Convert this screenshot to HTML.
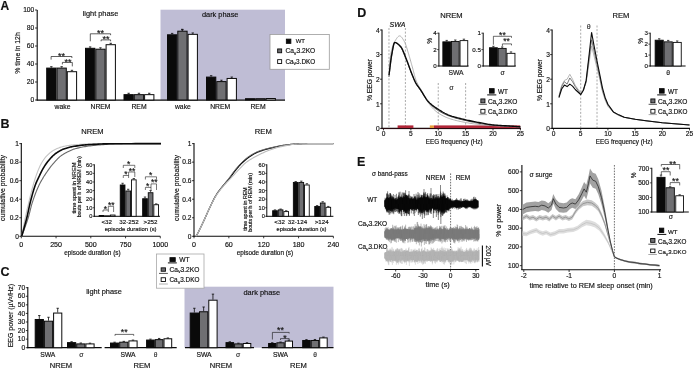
<!DOCTYPE html>
<html><head><meta charset="utf-8"><style>
html,body{margin:0;padding:0;background:#fff;}
svg{display:block;}
text{font-family:"Liberation Sans", sans-serif;stroke:#111;stroke-width:0.16px;paint-order:stroke;}
svg{will-change:transform;}
</style></head><body>
<svg width="694" height="368" viewBox="0 0 694 368">
<rect x="0" y="0" width="694" height="368" fill="#fff"/>
<text x="0.60" y="9.90" font-size="12.00" text-anchor="start" fill="#111" font-weight="bold">A</text>
<rect x="160.50" y="9.70" width="124.50" height="90.30" fill="#bfbdd5"/>
<line x1="37.20" y1="10.00" x2="37.20" y2="100.50" stroke="#0a0a0a" stroke-width="1.1"/>
<line x1="35.00" y1="100.00" x2="37.20" y2="100.00" stroke="#0a0a0a" stroke-width="0.8"/>
<text x="34.30" y="102.30" font-size="6.70" text-anchor="end" fill="#111">0</text>
<line x1="35.00" y1="82.00" x2="37.20" y2="82.00" stroke="#0a0a0a" stroke-width="0.8"/>
<text x="34.30" y="84.30" font-size="6.70" text-anchor="end" fill="#111">20</text>
<line x1="35.00" y1="64.00" x2="37.20" y2="64.00" stroke="#0a0a0a" stroke-width="0.8"/>
<text x="34.30" y="66.30" font-size="6.70" text-anchor="end" fill="#111">40</text>
<line x1="35.00" y1="46.00" x2="37.20" y2="46.00" stroke="#0a0a0a" stroke-width="0.8"/>
<text x="34.30" y="48.30" font-size="6.70" text-anchor="end" fill="#111">60</text>
<line x1="35.00" y1="28.00" x2="37.20" y2="28.00" stroke="#0a0a0a" stroke-width="0.8"/>
<text x="34.30" y="30.30" font-size="6.70" text-anchor="end" fill="#111">80</text>
<line x1="35.00" y1="10.00" x2="37.20" y2="10.00" stroke="#0a0a0a" stroke-width="0.8"/>
<text x="34.30" y="12.30" font-size="6.70" text-anchor="end" fill="#111">100</text>
<text x="20.00" y="53.00" font-size="6.83" text-anchor="middle" fill="#111" transform="rotate(-90 20.00 53.00)">% time in 12h</text>
<line x1="36.70" y1="100.20" x2="285.00" y2="100.20" stroke="#0a0a0a" stroke-width="1.2"/>
<rect x="46.70" y="68.10" width="9.30" height="31.90" fill="#0a0a0a" stroke="#0a0a0a" stroke-width="1.0"/>
<line x1="51.35" y1="67.60" x2="51.35" y2="66.70" stroke="#0a0a0a" stroke-width="0.8"/>
<line x1="50.15" y1="66.70" x2="52.55" y2="66.70" stroke="#0a0a0a" stroke-width="0.8"/>
<rect x="57.00" y="68.10" width="9.30" height="31.90" fill="#6f6f72" stroke="#0a0a0a" stroke-width="1.0"/>
<line x1="61.65" y1="67.60" x2="61.65" y2="66.70" stroke="#0a0a0a" stroke-width="0.8"/>
<line x1="60.45" y1="66.70" x2="62.85" y2="66.70" stroke="#0a0a0a" stroke-width="0.8"/>
<rect x="67.30" y="71.70" width="9.30" height="28.30" fill="#ffffff" stroke="#0a0a0a" stroke-width="1.0"/>
<line x1="71.95" y1="71.20" x2="71.95" y2="70.30" stroke="#0a0a0a" stroke-width="0.8"/>
<line x1="70.75" y1="70.30" x2="73.15" y2="70.30" stroke="#0a0a0a" stroke-width="0.8"/>
<rect x="85.50" y="48.30" width="9.30" height="51.70" fill="#0a0a0a" stroke="#0a0a0a" stroke-width="1.0"/>
<line x1="90.15" y1="47.80" x2="90.15" y2="46.90" stroke="#0a0a0a" stroke-width="0.8"/>
<line x1="88.95" y1="46.90" x2="91.35" y2="46.90" stroke="#0a0a0a" stroke-width="0.8"/>
<rect x="95.80" y="49.20" width="9.30" height="50.80" fill="#6f6f72" stroke="#0a0a0a" stroke-width="1.0"/>
<line x1="100.45" y1="48.70" x2="100.45" y2="47.80" stroke="#0a0a0a" stroke-width="0.8"/>
<line x1="99.25" y1="47.80" x2="101.65" y2="47.80" stroke="#0a0a0a" stroke-width="0.8"/>
<rect x="106.10" y="44.70" width="9.30" height="55.30" fill="#ffffff" stroke="#0a0a0a" stroke-width="1.0"/>
<line x1="110.75" y1="44.20" x2="110.75" y2="43.30" stroke="#0a0a0a" stroke-width="0.8"/>
<line x1="109.55" y1="43.30" x2="111.95" y2="43.30" stroke="#0a0a0a" stroke-width="0.8"/>
<rect x="124.00" y="94.65" width="9.30" height="5.35" fill="#0a0a0a" stroke="#0a0a0a" stroke-width="1.0"/>
<line x1="128.65" y1="94.15" x2="128.65" y2="93.25" stroke="#0a0a0a" stroke-width="0.8"/>
<line x1="127.45" y1="93.25" x2="129.85" y2="93.25" stroke="#0a0a0a" stroke-width="0.8"/>
<rect x="134.30" y="94.65" width="9.30" height="5.35" fill="#6f6f72" stroke="#0a0a0a" stroke-width="1.0"/>
<line x1="138.95" y1="94.15" x2="138.95" y2="93.25" stroke="#0a0a0a" stroke-width="0.8"/>
<line x1="137.75" y1="93.25" x2="140.15" y2="93.25" stroke="#0a0a0a" stroke-width="0.8"/>
<rect x="144.60" y="94.65" width="9.30" height="5.35" fill="#ffffff" stroke="#0a0a0a" stroke-width="1.0"/>
<line x1="149.25" y1="94.15" x2="149.25" y2="93.25" stroke="#0a0a0a" stroke-width="0.8"/>
<line x1="148.05" y1="93.25" x2="150.45" y2="93.25" stroke="#0a0a0a" stroke-width="0.8"/>
<rect x="167.50" y="34.80" width="9.30" height="65.20" fill="#0a0a0a" stroke="#0a0a0a" stroke-width="1.0"/>
<line x1="172.15" y1="34.30" x2="172.15" y2="33.40" stroke="#0a0a0a" stroke-width="0.8"/>
<line x1="170.95" y1="33.40" x2="173.35" y2="33.40" stroke="#0a0a0a" stroke-width="0.8"/>
<rect x="177.80" y="31.20" width="9.30" height="68.80" fill="#6f6f72" stroke="#0a0a0a" stroke-width="1.0"/>
<line x1="182.45" y1="30.70" x2="182.45" y2="29.80" stroke="#0a0a0a" stroke-width="0.8"/>
<line x1="181.25" y1="29.80" x2="183.65" y2="29.80" stroke="#0a0a0a" stroke-width="0.8"/>
<rect x="188.10" y="34.35" width="9.30" height="65.65" fill="#ffffff" stroke="#0a0a0a" stroke-width="1.0"/>
<line x1="192.75" y1="33.85" x2="192.75" y2="32.95" stroke="#0a0a0a" stroke-width="0.8"/>
<line x1="191.55" y1="32.95" x2="193.95" y2="32.95" stroke="#0a0a0a" stroke-width="0.8"/>
<rect x="206.50" y="77.10" width="9.30" height="22.90" fill="#0a0a0a" stroke="#0a0a0a" stroke-width="1.0"/>
<line x1="211.15" y1="76.60" x2="211.15" y2="75.70" stroke="#0a0a0a" stroke-width="0.8"/>
<line x1="209.95" y1="75.70" x2="212.35" y2="75.70" stroke="#0a0a0a" stroke-width="0.8"/>
<rect x="216.80" y="81.60" width="9.30" height="18.40" fill="#6f6f72" stroke="#0a0a0a" stroke-width="1.0"/>
<line x1="221.45" y1="81.10" x2="221.45" y2="80.20" stroke="#0a0a0a" stroke-width="0.8"/>
<line x1="220.25" y1="80.20" x2="222.65" y2="80.20" stroke="#0a0a0a" stroke-width="0.8"/>
<rect x="227.10" y="78.45" width="9.30" height="21.55" fill="#ffffff" stroke="#0a0a0a" stroke-width="1.0"/>
<line x1="231.75" y1="77.95" x2="231.75" y2="77.05" stroke="#0a0a0a" stroke-width="0.8"/>
<line x1="230.55" y1="77.05" x2="232.95" y2="77.05" stroke="#0a0a0a" stroke-width="0.8"/>
<rect x="245.50" y="98.70" width="9.30" height="1.30" fill="#0a0a0a" stroke="#0a0a0a" stroke-width="1.0"/>
<rect x="255.80" y="98.70" width="9.30" height="1.30" fill="#6f6f72" stroke="#0a0a0a" stroke-width="1.0"/>
<rect x="266.10" y="98.52" width="9.30" height="1.48" fill="#ffffff" stroke="#0a0a0a" stroke-width="1.0"/>
<line x1="182.20" y1="30.70" x2="182.20" y2="29.30" stroke="#0a0a0a" stroke-width="0.8"/>
<line x1="181.00" y1="29.30" x2="183.40" y2="29.30" stroke="#0a0a0a" stroke-width="0.8"/>
<text x="100.50" y="16.00" font-size="7.40" text-anchor="middle" fill="#111">light phase</text>
<text x="220.20" y="16.50" font-size="7.40" text-anchor="middle" fill="#111">dark phase</text>
<text x="62.50" y="109.00" font-size="6.80" text-anchor="middle" fill="#111">wake</text>
<text x="100.50" y="109.00" font-size="6.80" text-anchor="middle" fill="#111">NREM</text>
<text x="139.00" y="109.00" font-size="6.80" text-anchor="middle" fill="#111">REM</text>
<text x="182.90" y="109.00" font-size="6.80" text-anchor="middle" fill="#111">wake</text>
<text x="220.20" y="109.00" font-size="6.80" text-anchor="middle" fill="#111">NREM</text>
<text x="258.00" y="109.00" font-size="6.80" text-anchor="middle" fill="#111">REM</text>
<text x="61.40" y="58.52" font-size="9.00" text-anchor="middle" fill="#111">**</text>
<polyline points="51.10,59.60 51.10,56.50 71.90,56.50 71.90,58.00" fill="none" stroke="#0a0a0a" stroke-width="0.65" stroke-linejoin="round"/>
<text x="67.90" y="64.62" font-size="9.00" text-anchor="middle" fill="#111">**</text>
<polyline points="62.40,64.40 62.40,62.40 72.30,62.40 72.30,66.40" fill="none" stroke="#0a0a0a" stroke-width="0.65" stroke-linejoin="round"/>
<text x="100.40" y="35.72" font-size="9.00" text-anchor="middle" fill="#111">**</text>
<polyline points="90.30,41.30 90.30,33.80 110.60,33.80 110.60,35.20" fill="none" stroke="#0a0a0a" stroke-width="0.65" stroke-linejoin="round"/>
<text x="106.00" y="42.12" font-size="9.00" text-anchor="middle" fill="#111">**</text>
<polyline points="101.10,41.30 101.10,39.90 110.60,39.90 110.60,41.30" fill="none" stroke="#0a0a0a" stroke-width="0.65" stroke-linejoin="round"/>
<rect x="270.00" y="34.40" width="59.30" height="34.90" fill="#ffffff" stroke="#9a9a9a" stroke-width="0.8"/>
<rect x="286.35" y="39.15" width="4.50" height="4.20" fill="#0a0a0a" stroke="#0a0a0a" stroke-width="0.9"/>
<text x="295.70" y="43.40" font-size="5.98" text-anchor="start" fill="#111">WT</text>
<rect x="277.65" y="48.95" width="4.00" height="3.80" fill="#6f6f72" stroke="#0a0a0a" stroke-width="0.9"/>
<text x="285.40" y="53.20" font-size="6.62" fill="#111">Ca<tspan font-size="3.97" dy="1.66">V</tspan><tspan dy="-1.66">3.2KO</tspan></text>
<rect x="277.65" y="59.65" width="4.00" height="3.80" fill="#ffffff" stroke="#0a0a0a" stroke-width="0.9"/>
<text x="285.40" y="63.70" font-size="6.39" fill="#111">Ca<tspan font-size="3.83" dy="1.60">V</tspan><tspan dy="-1.60">3.DKO</tspan></text>
<text x="0.50" y="127.50" font-size="12.50" text-anchor="start" fill="#111" font-weight="bold">B</text>
<line x1="21.30" y1="143.10" x2="21.30" y2="236.80" stroke="#0a0a0a" stroke-width="1.1"/>
<line x1="20.80" y1="236.30" x2="160.30" y2="236.30" stroke="#0a0a0a" stroke-width="1.1"/>
<line x1="19.30" y1="236.30" x2="21.30" y2="236.30" stroke="#0a0a0a" stroke-width="0.8"/>
<text x="18.80" y="238.60" font-size="6.60" text-anchor="end" fill="#111">0</text>
<line x1="19.30" y1="217.76" x2="21.30" y2="217.76" stroke="#0a0a0a" stroke-width="0.8"/>
<text x="18.80" y="220.06" font-size="6.60" text-anchor="end" fill="#111">0.2</text>
<line x1="19.30" y1="199.22" x2="21.30" y2="199.22" stroke="#0a0a0a" stroke-width="0.8"/>
<text x="18.80" y="201.52" font-size="6.60" text-anchor="end" fill="#111">0.4</text>
<line x1="19.30" y1="180.68" x2="21.30" y2="180.68" stroke="#0a0a0a" stroke-width="0.8"/>
<text x="18.80" y="182.98" font-size="6.60" text-anchor="end" fill="#111">0.6</text>
<line x1="19.30" y1="162.14" x2="21.30" y2="162.14" stroke="#0a0a0a" stroke-width="0.8"/>
<text x="18.80" y="164.44" font-size="6.60" text-anchor="end" fill="#111">0.8</text>
<line x1="19.30" y1="143.60" x2="21.30" y2="143.60" stroke="#0a0a0a" stroke-width="0.8"/>
<text x="18.80" y="145.90" font-size="6.60" text-anchor="end" fill="#111">1</text>
<line x1="21.30" y1="236.30" x2="21.30" y2="238.30" stroke="#0a0a0a" stroke-width="0.8"/>
<text x="21.30" y="246.80" font-size="7.10" text-anchor="middle" fill="#111">0</text>
<line x1="56.05" y1="236.30" x2="56.05" y2="238.30" stroke="#0a0a0a" stroke-width="0.8"/>
<text x="56.05" y="246.80" font-size="7.10" text-anchor="middle" fill="#111">250</text>
<line x1="90.80" y1="236.30" x2="90.80" y2="238.30" stroke="#0a0a0a" stroke-width="0.8"/>
<text x="90.80" y="246.80" font-size="7.10" text-anchor="middle" fill="#111">500</text>
<line x1="125.55" y1="236.30" x2="125.55" y2="238.30" stroke="#0a0a0a" stroke-width="0.8"/>
<text x="125.55" y="246.80" font-size="7.10" text-anchor="middle" fill="#111">750</text>
<line x1="160.30" y1="236.30" x2="160.30" y2="238.30" stroke="#0a0a0a" stroke-width="0.8"/>
<text x="160.30" y="246.80" font-size="7.10" text-anchor="middle" fill="#111">1000</text>
<text x="92.40" y="133.70" font-size="7.57" text-anchor="middle" fill="#111">NREM</text>
<text x="92.40" y="255.30" font-size="6.39" text-anchor="middle" fill="#111">episode duration (s)</text>
<text x="5.20" y="188.00" font-size="6.86" text-anchor="middle" fill="#111" transform="rotate(-90 5.20 188.00)">cumulative probability</text>
<polyline points="21.70,236.30 22.23,234.81 22.77,233.35 23.30,231.90 23.83,230.47 24.37,229.03 24.90,227.59 25.43,226.13 25.97,224.64 26.50,223.11 27.03,221.54 27.57,219.91 28.10,218.22 28.46,217.02 28.82,215.74 29.18,214.40 29.53,213.01 29.89,211.59 30.25,210.17 30.61,208.74 30.97,207.34 31.32,205.98 31.68,204.67 32.04,203.43 32.40,202.28 32.96,200.58 33.52,198.93 34.08,197.33 34.63,195.77 35.19,194.26 35.75,192.79 36.31,191.38 36.87,190.01 37.42,188.69 37.98,187.42 38.54,186.20 39.10,185.04 39.73,183.77 40.37,182.55 41.00,181.38 41.63,180.25 42.27,179.16 42.90,178.10 43.53,177.07 44.17,176.07 44.80,175.09 45.43,174.13 46.07,173.18 46.70,172.24 47.25,171.44 47.80,170.65 48.35,169.87 48.90,169.10 49.45,168.35 50.00,167.61 50.55,166.89 51.10,166.18 51.65,165.50 52.20,164.82 52.75,164.17 53.30,163.53 53.93,162.81 54.57,162.09 55.20,161.39 55.83,160.69 56.47,160.01 57.10,159.35 57.73,158.71 58.37,158.09 59.00,157.50 59.63,156.94 60.27,156.42 60.90,155.93 61.53,155.47 62.17,155.03 62.80,154.62 63.43,154.22 64.07,153.83 64.70,153.46 65.33,153.10 65.97,152.76 66.60,152.43 67.23,152.10 67.87,151.79 68.50,151.48 69.04,151.22 69.58,150.96 70.12,150.70 70.67,150.45 71.21,150.20 71.75,149.97 72.29,149.74 72.83,149.52 73.38,149.32 73.92,149.12 74.46,148.95 75.00,148.79 76.25,148.46 77.50,148.14 78.75,147.85 80.00,147.57 81.25,147.30 82.50,147.06 83.75,146.83 85.00,146.62 86.25,146.42 87.50,146.24 88.75,146.07 90.00,145.92 91.67,145.72 93.33,145.54 95.00,145.36 96.67,145.20 98.33,145.04 100.00,144.89 101.67,144.75 103.33,144.63 105.00,144.52 106.67,144.41 108.33,144.33 110.00,144.25 111.67,144.18 113.33,144.11 115.00,144.05 116.67,143.99 118.33,143.93 120.00,143.88 121.67,143.83 123.33,143.79 125.00,143.76 126.67,143.73 128.33,143.71 130.00,143.69 132.58,143.68 135.17,143.67 137.75,143.66 140.33,143.65 142.92,143.64 145.50,143.64 148.08,143.63 150.67,143.62 153.25,143.62 155.83,143.61 158.42,143.61 161.00,143.60" fill="none" stroke="#6a6a6a" stroke-width="1.1" stroke-linejoin="round"/>
<polyline points="21.70,236.30 21.99,234.78 22.28,233.26 22.57,231.72 22.87,230.17 23.16,228.63 23.45,227.09 23.74,225.56 24.03,224.04 24.32,222.55 24.62,221.08 24.91,219.63 25.20,218.22 25.50,216.80 25.80,215.40 26.10,214.02 26.40,212.66 26.70,211.31 27.00,209.98 27.30,208.66 27.60,207.36 27.90,206.07 28.20,204.80 28.50,203.53 28.80,202.28 29.17,200.75 29.53,199.23 29.90,197.72 30.27,196.22 30.63,194.73 31.00,193.26 31.37,191.82 31.73,190.40 32.10,189.01 32.47,187.65 32.83,186.32 33.20,185.04 33.52,183.95 33.83,182.88 34.15,181.82 34.47,180.78 34.78,179.76 35.10,178.76 35.42,177.78 35.73,176.82 36.05,175.89 36.37,174.99 36.68,174.11 37.00,173.26 37.36,172.33 37.72,171.41 38.08,170.51 38.43,169.63 38.79,168.77 39.15,167.93 39.51,167.12 39.87,166.33 40.22,165.58 40.58,164.86 40.94,164.18 41.30,163.53 41.75,162.75 42.20,162.00 42.65,161.27 43.10,160.57 43.55,159.89 44.00,159.24 44.45,158.62 44.90,158.02 45.35,157.46 45.80,156.92 46.25,156.41 46.70,155.93 47.33,155.29 47.97,154.67 48.60,154.07 49.23,153.50 49.87,152.95 50.50,152.43 51.13,151.94 51.77,151.47 52.40,151.03 53.03,150.63 53.67,150.25 54.30,149.90 55.02,149.53 55.75,149.18 56.47,148.84 57.20,148.51 57.92,148.21 58.65,147.92 59.38,147.64 60.10,147.39 60.83,147.15 61.55,146.94 62.27,146.74 63.00,146.57 63.82,146.38 64.63,146.21 65.45,146.05 66.27,145.89 67.08,145.75 67.90,145.61 68.72,145.48 69.53,145.36 70.35,145.26 71.17,145.16 71.98,145.07 72.80,144.99 74.23,144.86 75.67,144.74 77.10,144.63 78.53,144.52 79.97,144.42 81.40,144.33 82.83,144.24 84.27,144.17 85.70,144.10 87.13,144.05 88.57,144.00 90.00,143.97 92.08,143.93 94.17,143.90 96.25,143.86 98.33,143.83 100.42,143.81 102.50,143.78 104.58,143.76 106.67,143.74 108.75,143.73 110.83,143.71 112.92,143.70 115.00,143.69 118.83,143.68 122.67,143.67 126.50,143.66 130.33,143.65 134.17,143.64 138.00,143.64 141.83,143.63 145.67,143.63 149.50,143.62 153.33,143.61 157.17,143.61 161.00,143.60" fill="none" stroke="#c4c4c4" stroke-width="1.1" stroke-linejoin="round"/>
<polyline points="21.70,236.30 22.12,234.81 22.53,233.33 22.95,231.87 23.37,230.42 23.78,228.96 24.20,227.50 24.62,226.03 25.03,224.54 25.45,223.02 25.87,221.46 26.28,219.87 26.70,218.22 27.00,216.99 27.30,215.70 27.60,214.36 27.90,213.00 28.20,211.61 28.50,210.21 28.80,208.81 29.10,207.43 29.40,206.07 29.70,204.75 30.00,203.49 30.30,202.28 30.72,200.66 31.13,199.05 31.55,197.47 31.97,195.91 32.38,194.39 32.80,192.90 33.22,191.45 33.63,190.06 34.05,188.71 34.47,187.42 34.88,186.19 35.30,185.04 35.62,184.20 35.93,183.41 36.25,182.64 36.57,181.90 36.88,181.19 37.20,180.49 37.52,179.82 37.83,179.15 38.15,178.49 38.47,177.83 38.78,177.17 39.10,176.51 39.47,175.73 39.83,174.96 40.20,174.18 40.57,173.42 40.93,172.65 41.30,171.90 41.67,171.17 42.03,170.45 42.40,169.75 42.77,169.07 43.13,168.42 43.50,167.79 43.95,167.06 44.40,166.34 44.85,165.65 45.30,164.97 45.75,164.31 46.20,163.67 46.65,163.05 47.10,162.44 47.55,161.85 48.00,161.28 48.45,160.73 48.90,160.19 49.44,159.56 49.98,158.94 50.52,158.33 51.07,157.73 51.61,157.15 52.15,156.59 52.69,156.05 53.23,155.53 53.77,155.03 54.32,154.56 54.86,154.12 55.40,153.70 56.03,153.25 56.67,152.80 57.30,152.38 57.93,151.97 58.57,151.57 59.20,151.19 59.83,150.84 60.47,150.50 61.10,150.18 61.73,149.88 62.37,149.60 63.00,149.35 63.82,149.04 64.63,148.74 65.45,148.46 66.27,148.19 67.08,147.94 67.90,147.70 68.72,147.47 69.53,147.26 70.35,147.06 71.17,146.88 71.98,146.72 72.80,146.57 74.23,146.32 75.67,146.09 77.10,145.87 78.53,145.67 79.97,145.48 81.40,145.30 82.83,145.13 84.27,144.98 85.70,144.84 87.13,144.72 88.57,144.62 90.00,144.53 91.67,144.43 93.33,144.34 95.00,144.26 96.67,144.18 98.33,144.10 100.00,144.03 101.67,143.97 103.33,143.92 105.00,143.87 106.67,143.83 108.33,143.80 110.00,143.79 114.25,143.76 118.50,143.73 122.75,143.71 127.00,143.69 131.25,143.68 135.50,143.67 139.75,143.66 144.00,143.65 148.25,143.64 152.50,143.63 156.75,143.61 161.00,143.60" fill="none" stroke="#0a0a0a" stroke-width="1.6" stroke-linejoin="round"/>
<line x1="194.00" y1="143.10" x2="194.00" y2="236.80" stroke="#0a0a0a" stroke-width="1.1"/>
<line x1="193.50" y1="236.30" x2="333.40" y2="236.30" stroke="#0a0a0a" stroke-width="1.1"/>
<line x1="192.00" y1="236.30" x2="194.00" y2="236.30" stroke="#0a0a0a" stroke-width="0.8"/>
<text x="191.50" y="238.60" font-size="6.60" text-anchor="end" fill="#111">0</text>
<line x1="192.00" y1="217.76" x2="194.00" y2="217.76" stroke="#0a0a0a" stroke-width="0.8"/>
<text x="191.50" y="220.06" font-size="6.60" text-anchor="end" fill="#111">0.2</text>
<line x1="192.00" y1="199.22" x2="194.00" y2="199.22" stroke="#0a0a0a" stroke-width="0.8"/>
<text x="191.50" y="201.52" font-size="6.60" text-anchor="end" fill="#111">0.4</text>
<line x1="192.00" y1="180.68" x2="194.00" y2="180.68" stroke="#0a0a0a" stroke-width="0.8"/>
<text x="191.50" y="182.98" font-size="6.60" text-anchor="end" fill="#111">0.6</text>
<line x1="192.00" y1="162.14" x2="194.00" y2="162.14" stroke="#0a0a0a" stroke-width="0.8"/>
<text x="191.50" y="164.44" font-size="6.60" text-anchor="end" fill="#111">0.8</text>
<line x1="192.00" y1="143.60" x2="194.00" y2="143.60" stroke="#0a0a0a" stroke-width="0.8"/>
<text x="191.50" y="145.90" font-size="6.60" text-anchor="end" fill="#111">1</text>
<line x1="194.00" y1="236.30" x2="194.00" y2="238.30" stroke="#0a0a0a" stroke-width="0.8"/>
<text x="194.00" y="246.80" font-size="7.10" text-anchor="middle" fill="#111">0</text>
<line x1="228.85" y1="236.30" x2="228.85" y2="238.30" stroke="#0a0a0a" stroke-width="0.8"/>
<text x="228.85" y="246.80" font-size="7.10" text-anchor="middle" fill="#111">60</text>
<line x1="263.70" y1="236.30" x2="263.70" y2="238.30" stroke="#0a0a0a" stroke-width="0.8"/>
<text x="263.70" y="246.80" font-size="7.10" text-anchor="middle" fill="#111">120</text>
<line x1="298.55" y1="236.30" x2="298.55" y2="238.30" stroke="#0a0a0a" stroke-width="0.8"/>
<text x="298.55" y="246.80" font-size="7.10" text-anchor="middle" fill="#111">180</text>
<line x1="333.40" y1="236.30" x2="333.40" y2="238.30" stroke="#0a0a0a" stroke-width="0.8"/>
<text x="333.40" y="246.80" font-size="7.10" text-anchor="middle" fill="#111">240</text>
<text x="263.30" y="133.70" font-size="7.65" text-anchor="middle" fill="#111">REM</text>
<text x="265.00" y="255.30" font-size="6.39" text-anchor="middle" fill="#111">episode duration (s)</text>
<text x="178.60" y="188.00" font-size="6.86" text-anchor="middle" fill="#111" transform="rotate(-90 178.60 188.00)">cumulative probability</text>
<polyline points="196.00,236.30 196.09,236.15 196.18,235.99 196.28,235.84 196.37,235.69 196.46,235.54 196.55,235.39 196.64,235.24 196.73,235.08 196.82,234.93 196.92,234.77 197.01,234.61 197.10,234.45 197.63,233.47 198.17,232.46 198.70,231.43 199.23,230.38 199.77,229.30 200.30,228.21 200.83,227.10 201.37,225.98 201.90,224.86 202.43,223.73 202.97,222.60 203.50,221.47 204.03,220.35 204.55,219.20 205.07,218.04 205.60,216.86 206.12,215.67 206.65,214.48 207.18,213.30 207.70,212.12 208.23,210.95 208.75,209.80 209.28,208.67 209.80,207.56 210.33,206.45 210.87,205.34 211.40,204.22 211.93,203.11 212.47,202.01 213.00,200.93 213.53,199.86 214.07,198.83 214.60,197.82 215.13,196.85 215.67,195.93 216.20,195.05 216.72,194.23 217.25,193.43 217.77,192.67 218.30,191.93 218.82,191.21 219.35,190.51 219.88,189.82 220.40,189.15 220.93,188.49 221.45,187.83 221.97,187.17 222.50,186.52 223.03,185.86 223.57,185.23 224.10,184.61 224.63,184.00 225.17,183.40 225.70,182.80 226.23,182.21 226.77,181.61 227.30,181.00 227.83,180.39 228.37,179.75 228.90,179.10 229.43,178.43 229.97,177.74 230.50,177.02 231.03,176.30 231.57,175.57 232.10,174.83 232.63,174.09 233.17,173.36 233.70,172.64 234.23,171.93 234.77,171.24 235.30,170.58 235.85,169.90 236.40,169.23 236.95,168.56 237.50,167.90 238.05,167.25 238.60,166.60 239.15,165.97 239.70,165.35 240.25,164.75 240.80,164.17 241.35,163.61 241.90,163.07 242.47,162.52 243.05,161.98 243.62,161.46 244.20,160.94 244.78,160.44 245.35,159.96 245.93,159.48 246.50,159.02 247.08,158.57 247.65,158.14 248.23,157.72 248.80,157.32 249.58,156.79 250.35,156.27 251.12,155.76 251.90,155.26 252.68,154.77 253.45,154.30 254.23,153.85 255.00,153.42 255.78,153.01 256.55,152.63 257.33,152.27 258.10,151.94 259.06,151.57 260.02,151.21 260.98,150.87 261.93,150.56 262.89,150.25 263.85,149.96 264.81,149.69 265.77,149.42 266.73,149.16 267.68,148.91 268.64,148.66 269.60,148.42 270.75,148.13 271.90,147.84 273.05,147.56 274.20,147.28 275.35,147.01 276.50,146.74 277.65,146.49 278.80,146.25 279.95,146.03 281.10,145.82 282.25,145.63 283.40,145.45 284.65,145.28 285.90,145.10 287.15,144.93 288.40,144.76 289.65,144.60 290.90,144.46 292.15,144.32 293.40,144.19 294.65,144.09 295.90,144.00 297.15,143.93 298.40,143.88 299.78,143.84 301.17,143.80 302.55,143.77 303.93,143.73 305.32,143.70 306.70,143.68 308.08,143.66 309.47,143.64 310.85,143.62 312.23,143.61 313.62,143.60 315.00,143.60 316.53,143.60 318.07,143.60 319.60,143.60 321.13,143.60 322.67,143.60 324.20,143.60 325.73,143.60 327.27,143.60 328.80,143.60 330.33,143.60 331.87,143.60 333.40,143.60" fill="none" stroke="#0a0a0a" stroke-width="1.2" stroke-linejoin="round"/>
<polyline points="196.00,236.30 196.09,236.15 196.18,235.99 196.28,235.84 196.37,235.69 196.46,235.54 196.55,235.39 196.64,235.24 196.73,235.08 196.82,234.93 196.92,234.77 197.01,234.61 197.10,234.45 197.63,233.47 198.17,232.46 198.70,231.43 199.23,230.38 199.77,229.30 200.30,228.21 200.83,227.10 201.37,225.98 201.90,224.86 202.43,223.73 202.97,222.60 203.50,221.47 204.03,220.35 204.55,219.20 205.07,218.04 205.60,216.86 206.12,215.67 206.65,214.48 207.18,213.30 207.70,212.12 208.23,210.95 208.75,209.80 209.28,208.67 209.80,207.56 210.33,206.45 210.87,205.34 211.40,204.23 211.93,203.12 212.47,202.03 213.00,200.95 213.53,199.89 214.07,198.85 214.60,197.85 215.13,196.88 215.67,195.94 216.20,195.05 216.72,194.21 217.25,193.40 217.77,192.62 218.30,191.86 218.82,191.13 219.35,190.41 219.88,189.70 220.40,189.00 220.93,188.31 221.45,187.62 221.97,186.93 222.50,186.24 223.03,185.54 223.57,184.86 224.10,184.18 224.63,183.51 225.17,182.85 225.70,182.19 226.23,181.53 226.77,180.87 227.30,180.21 227.83,179.54 228.37,178.87 228.90,178.18 229.43,177.47 229.97,176.76 230.50,176.03 231.03,175.29 231.57,174.55 232.10,173.81 232.63,173.07 233.17,172.34 233.70,171.62 234.23,170.91 234.77,170.22 235.30,169.56 235.85,168.88 236.40,168.22 236.95,167.56 237.50,166.90 238.05,166.26 238.60,165.63 239.15,165.01 239.70,164.40 240.25,163.81 240.80,163.23 241.35,162.68 241.90,162.14 242.47,161.59 243.05,161.05 243.62,160.53 244.20,160.01 244.78,159.50 245.35,159.01 245.93,158.53 246.50,158.07 247.08,157.62 247.65,157.19 248.23,156.78 248.80,156.39 249.58,155.89 250.35,155.39 251.12,154.91 251.90,154.45 252.68,154.00 253.45,153.56 254.23,153.15 255.00,152.75 255.78,152.38 256.55,152.03 257.33,151.69 258.10,151.39 259.06,151.03 260.02,150.70 260.98,150.38 261.93,150.08 262.89,149.79 263.85,149.51 264.81,149.25 265.77,149.00 266.73,148.75 267.68,148.51 268.64,148.28 269.60,148.05 270.75,147.77 271.90,147.50 273.05,147.23 274.20,146.97 275.35,146.71 276.50,146.47 277.65,146.23 278.80,146.01 279.95,145.80 281.10,145.60 282.25,145.43 283.40,145.27 284.65,145.11 285.90,144.95 287.15,144.80 288.40,144.66 289.65,144.52 290.90,144.39 292.15,144.27 293.40,144.16 294.65,144.07 295.90,143.99 297.15,143.92 298.40,143.88 299.78,143.84 301.17,143.80 302.55,143.77 303.93,143.74 305.32,143.71 306.70,143.68 308.08,143.66 309.47,143.64 310.85,143.62 312.23,143.61 313.62,143.60 315.00,143.60 316.53,143.60 318.07,143.60 319.60,143.60 321.13,143.60 322.67,143.60 324.20,143.60 325.73,143.60 327.27,143.60 328.80,143.60 330.33,143.60 331.87,143.60 333.40,143.60" fill="none" stroke="#6a6a6a" stroke-width="1.0" stroke-linejoin="round"/>
<polyline points="196.00,236.30 196.09,236.15 196.18,235.99 196.28,235.84 196.37,235.69 196.46,235.54 196.55,235.39 196.64,235.24 196.73,235.08 196.82,234.93 196.92,234.77 197.01,234.61 197.10,234.45 197.63,233.47 198.17,232.46 198.70,231.43 199.23,230.38 199.77,229.30 200.30,228.21 200.83,227.10 201.37,225.98 201.90,224.86 202.43,223.73 202.97,222.60 203.50,221.47 204.03,220.34 204.55,219.19 205.07,218.02 205.60,216.84 206.12,215.65 206.65,214.45 207.18,213.26 207.70,212.08 208.23,210.91 208.75,209.77 209.28,208.65 209.80,207.56 210.33,206.48 210.87,205.39 211.40,204.32 211.93,203.25 212.47,202.19 213.00,201.15 213.53,200.14 214.07,199.15 214.60,198.18 215.13,197.25 215.67,196.36 216.20,195.51 216.72,194.71 217.25,193.93 217.77,193.18 218.30,192.46 218.82,191.75 219.35,191.06 219.88,190.38 220.40,189.72 220.93,189.07 221.45,188.43 221.97,187.80 222.50,187.17 223.03,186.54 223.57,185.93 224.10,185.33 224.63,184.74 225.17,184.17 225.70,183.60 226.23,183.03 226.77,182.47 227.30,181.91 227.83,181.35 228.37,180.79 228.90,180.22 229.41,179.67 229.92,179.12 230.43,178.58 230.93,178.03 231.44,177.49 231.95,176.94 232.46,176.40 232.97,175.86 233.47,175.32 233.98,174.79 234.49,174.26 235.00,173.73 235.96,172.72 236.92,171.69 237.88,170.64 238.83,169.59 239.79,168.54 240.75,167.51 241.71,166.51 242.67,165.53 243.62,164.60 244.58,163.71 245.54,162.89 246.50,162.14 247.47,161.44 248.43,160.77 249.40,160.13 250.37,159.52 251.33,158.93 252.30,158.37 253.27,157.83 254.23,157.30 255.20,156.78 256.17,156.28 257.13,155.78 258.10,155.28 259.06,154.79 260.02,154.31 260.98,153.83 261.93,153.36 262.89,152.91 263.85,152.46 264.81,152.02 265.77,151.60 266.73,151.20 267.68,150.81 268.64,150.44 269.60,150.09 270.75,149.68 271.90,149.29 273.05,148.90 274.20,148.53 275.35,148.16 276.50,147.81 277.65,147.48 278.80,147.17 279.95,146.87 281.10,146.59 282.25,146.34 283.40,146.10 284.65,145.86 285.90,145.63 287.15,145.39 288.40,145.17 289.65,144.95 290.90,144.75 292.15,144.57 293.40,144.40 294.65,144.25 295.90,144.13 297.15,144.04 298.40,143.97 299.78,143.92 301.17,143.87 302.55,143.82 303.93,143.78 305.32,143.74 306.70,143.70 308.08,143.67 309.47,143.65 310.85,143.63 312.23,143.61 313.62,143.60 315.00,143.60 316.53,143.60 318.07,143.60 319.60,143.60 321.13,143.60 322.67,143.60 324.20,143.60 325.73,143.60 327.27,143.60 328.80,143.60 330.33,143.60 331.87,143.60 333.40,143.60" fill="none" stroke="#bcbcbc" stroke-width="1.1" stroke-linejoin="round"/>
<line x1="94.30" y1="164.30" x2="94.30" y2="216.80" stroke="#0a0a0a" stroke-width="1.0"/>
<line x1="93.80" y1="216.30" x2="160.00" y2="216.30" stroke="#0a0a0a" stroke-width="1.0"/>
<line x1="92.70" y1="216.30" x2="94.30" y2="216.30" stroke="#0a0a0a" stroke-width="0.7"/>
<text x="92.30" y="218.30" font-size="5.60" text-anchor="end" fill="#111">0</text>
<line x1="92.70" y1="207.72" x2="94.30" y2="207.72" stroke="#0a0a0a" stroke-width="0.7"/>
<text x="92.30" y="209.72" font-size="5.60" text-anchor="end" fill="#111">10</text>
<line x1="92.70" y1="199.13" x2="94.30" y2="199.13" stroke="#0a0a0a" stroke-width="0.7"/>
<text x="92.30" y="201.13" font-size="5.60" text-anchor="end" fill="#111">20</text>
<line x1="92.70" y1="190.55" x2="94.30" y2="190.55" stroke="#0a0a0a" stroke-width="0.7"/>
<text x="92.30" y="192.55" font-size="5.60" text-anchor="end" fill="#111">30</text>
<line x1="92.70" y1="181.97" x2="94.30" y2="181.97" stroke="#0a0a0a" stroke-width="0.7"/>
<text x="92.30" y="183.97" font-size="5.60" text-anchor="end" fill="#111">40</text>
<line x1="92.70" y1="173.38" x2="94.30" y2="173.38" stroke="#0a0a0a" stroke-width="0.7"/>
<text x="92.30" y="175.38" font-size="5.60" text-anchor="end" fill="#111">50</text>
<line x1="92.70" y1="164.80" x2="94.30" y2="164.80" stroke="#0a0a0a" stroke-width="0.7"/>
<text x="92.30" y="166.80" font-size="5.60" text-anchor="end" fill="#111">60</text>
<rect x="99.15" y="215.46" width="4.70" height="0.84" fill="#0a0a0a" stroke="#0a0a0a" stroke-width="0.9"/>
<rect x="104.75" y="215.89" width="4.70" height="0.41" fill="#6f6f72" stroke="#0a0a0a" stroke-width="0.9"/>
<rect x="110.35" y="215.03" width="4.70" height="1.27" fill="#ffffff" stroke="#0a0a0a" stroke-width="0.9"/>
<rect x="120.25" y="184.99" width="4.70" height="31.31" fill="#0a0a0a" stroke="#0a0a0a" stroke-width="0.9"/>
<line x1="122.60" y1="184.54" x2="122.60" y2="183.25" stroke="#0a0a0a" stroke-width="0.7"/>
<line x1="121.40" y1="183.25" x2="123.80" y2="183.25" stroke="#0a0a0a" stroke-width="0.7"/>
<rect x="125.85" y="191.00" width="4.70" height="25.30" fill="#6f6f72" stroke="#0a0a0a" stroke-width="0.9"/>
<line x1="128.20" y1="190.55" x2="128.20" y2="189.26" stroke="#0a0a0a" stroke-width="0.7"/>
<line x1="127.00" y1="189.26" x2="129.40" y2="189.26" stroke="#0a0a0a" stroke-width="0.7"/>
<rect x="131.45" y="179.84" width="4.70" height="36.46" fill="#ffffff" stroke="#0a0a0a" stroke-width="0.9"/>
<line x1="133.80" y1="179.39" x2="133.80" y2="178.53" stroke="#0a0a0a" stroke-width="0.7"/>
<line x1="132.60" y1="178.53" x2="135.00" y2="178.53" stroke="#0a0a0a" stroke-width="0.7"/>
<rect x="142.65" y="198.72" width="4.70" height="17.58" fill="#0a0a0a" stroke="#0a0a0a" stroke-width="0.9"/>
<line x1="145.00" y1="198.28" x2="145.00" y2="196.99" stroke="#0a0a0a" stroke-width="0.7"/>
<line x1="143.80" y1="196.99" x2="146.20" y2="196.99" stroke="#0a0a0a" stroke-width="0.7"/>
<rect x="148.25" y="192.72" width="4.70" height="23.58" fill="#6f6f72" stroke="#0a0a0a" stroke-width="0.9"/>
<line x1="150.60" y1="192.27" x2="150.60" y2="190.55" stroke="#0a0a0a" stroke-width="0.7"/>
<line x1="149.40" y1="190.55" x2="151.80" y2="190.55" stroke="#0a0a0a" stroke-width="0.7"/>
<rect x="153.85" y="204.73" width="4.70" height="11.57" fill="#ffffff" stroke="#0a0a0a" stroke-width="0.9"/>
<line x1="156.20" y1="204.28" x2="156.20" y2="203.85" stroke="#0a0a0a" stroke-width="0.7"/>
<line x1="155.00" y1="203.85" x2="157.40" y2="203.85" stroke="#0a0a0a" stroke-width="0.7"/>
<text x="106.70" y="224.20" font-size="6.20" text-anchor="middle" fill="#111">&lt;32</text>
<text x="129.00" y="224.20" font-size="6.20" text-anchor="middle" fill="#111">32-252</text>
<text x="150.50" y="224.20" font-size="6.20" text-anchor="middle" fill="#111">&gt;252</text>
<text x="130.60" y="230.60" font-size="5.88" text-anchor="middle" fill="#111">episode duration (s)</text>
<text x="75.90" y="188.00" font-size="5.74" text-anchor="middle" fill="#111" transform="rotate(-90 75.90 188.00)">time spent in NREM</text>
<text x="81.30" y="186.80" font-size="5.13" text-anchor="middle" fill="#111" transform="rotate(-90 81.30 186.80)">bouts per h of NREM (min)</text>
<line x1="266.80" y1="164.30" x2="266.80" y2="216.80" stroke="#0a0a0a" stroke-width="1.0"/>
<line x1="266.30" y1="216.30" x2="333.40" y2="216.30" stroke="#0a0a0a" stroke-width="1.0"/>
<line x1="265.20" y1="216.30" x2="266.80" y2="216.30" stroke="#0a0a0a" stroke-width="0.7"/>
<text x="264.80" y="218.30" font-size="5.60" text-anchor="end" fill="#111">0</text>
<line x1="265.20" y1="207.72" x2="266.80" y2="207.72" stroke="#0a0a0a" stroke-width="0.7"/>
<text x="264.80" y="209.72" font-size="5.60" text-anchor="end" fill="#111">10</text>
<line x1="265.20" y1="199.13" x2="266.80" y2="199.13" stroke="#0a0a0a" stroke-width="0.7"/>
<text x="264.80" y="201.13" font-size="5.60" text-anchor="end" fill="#111">20</text>
<line x1="265.20" y1="190.55" x2="266.80" y2="190.55" stroke="#0a0a0a" stroke-width="0.7"/>
<text x="264.80" y="192.55" font-size="5.60" text-anchor="end" fill="#111">30</text>
<line x1="265.20" y1="181.97" x2="266.80" y2="181.97" stroke="#0a0a0a" stroke-width="0.7"/>
<text x="264.80" y="183.97" font-size="5.60" text-anchor="end" fill="#111">40</text>
<line x1="265.20" y1="173.38" x2="266.80" y2="173.38" stroke="#0a0a0a" stroke-width="0.7"/>
<text x="264.80" y="175.38" font-size="5.60" text-anchor="end" fill="#111">50</text>
<line x1="265.20" y1="164.80" x2="266.80" y2="164.80" stroke="#0a0a0a" stroke-width="0.7"/>
<text x="264.80" y="166.80" font-size="5.60" text-anchor="end" fill="#111">60</text>
<rect x="272.65" y="210.74" width="4.70" height="5.56" fill="#0a0a0a" stroke="#0a0a0a" stroke-width="0.9"/>
<line x1="275.00" y1="210.29" x2="275.00" y2="209.86" stroke="#0a0a0a" stroke-width="0.7"/>
<line x1="273.80" y1="209.86" x2="276.20" y2="209.86" stroke="#0a0a0a" stroke-width="0.7"/>
<rect x="278.25" y="209.88" width="4.70" height="6.42" fill="#6f6f72" stroke="#0a0a0a" stroke-width="0.9"/>
<line x1="280.60" y1="209.43" x2="280.60" y2="209.00" stroke="#0a0a0a" stroke-width="0.7"/>
<line x1="279.40" y1="209.00" x2="281.80" y2="209.00" stroke="#0a0a0a" stroke-width="0.7"/>
<rect x="283.85" y="211.60" width="4.70" height="4.70" fill="#ffffff" stroke="#0a0a0a" stroke-width="0.9"/>
<line x1="286.20" y1="211.15" x2="286.20" y2="210.72" stroke="#0a0a0a" stroke-width="0.7"/>
<line x1="285.00" y1="210.72" x2="287.40" y2="210.72" stroke="#0a0a0a" stroke-width="0.7"/>
<rect x="293.35" y="182.42" width="4.70" height="33.88" fill="#0a0a0a" stroke="#0a0a0a" stroke-width="0.9"/>
<line x1="295.70" y1="181.97" x2="295.70" y2="181.54" stroke="#0a0a0a" stroke-width="0.7"/>
<line x1="294.50" y1="181.54" x2="296.90" y2="181.54" stroke="#0a0a0a" stroke-width="0.7"/>
<rect x="298.95" y="182.42" width="4.70" height="33.88" fill="#6f6f72" stroke="#0a0a0a" stroke-width="0.9"/>
<line x1="301.30" y1="181.97" x2="301.30" y2="181.11" stroke="#0a0a0a" stroke-width="0.7"/>
<line x1="300.10" y1="181.11" x2="302.50" y2="181.11" stroke="#0a0a0a" stroke-width="0.7"/>
<rect x="304.55" y="184.99" width="4.70" height="31.31" fill="#ffffff" stroke="#0a0a0a" stroke-width="0.9"/>
<line x1="306.90" y1="184.54" x2="306.90" y2="183.68" stroke="#0a0a0a" stroke-width="0.7"/>
<line x1="305.70" y1="183.68" x2="308.10" y2="183.68" stroke="#0a0a0a" stroke-width="0.7"/>
<rect x="314.75" y="206.45" width="4.70" height="9.85" fill="#0a0a0a" stroke="#0a0a0a" stroke-width="0.9"/>
<line x1="317.10" y1="206.00" x2="317.10" y2="205.57" stroke="#0a0a0a" stroke-width="0.7"/>
<line x1="315.90" y1="205.57" x2="318.30" y2="205.57" stroke="#0a0a0a" stroke-width="0.7"/>
<rect x="320.35" y="203.02" width="4.70" height="13.28" fill="#6f6f72" stroke="#0a0a0a" stroke-width="0.9"/>
<line x1="322.70" y1="202.57" x2="322.70" y2="201.71" stroke="#0a0a0a" stroke-width="0.7"/>
<line x1="321.50" y1="201.71" x2="323.90" y2="201.71" stroke="#0a0a0a" stroke-width="0.7"/>
<rect x="325.95" y="207.31" width="4.70" height="8.99" fill="#ffffff" stroke="#0a0a0a" stroke-width="0.9"/>
<line x1="328.30" y1="206.86" x2="328.30" y2="206.43" stroke="#0a0a0a" stroke-width="0.7"/>
<line x1="327.10" y1="206.43" x2="329.50" y2="206.43" stroke="#0a0a0a" stroke-width="0.7"/>
<text x="279.60" y="224.20" font-size="6.20" text-anchor="middle" fill="#111">&lt;32</text>
<text x="297.50" y="224.20" font-size="6.20" text-anchor="middle" fill="#111">32-124</text>
<text x="321.70" y="224.20" font-size="6.20" text-anchor="middle" fill="#111">&gt;124</text>
<text x="301.50" y="230.60" font-size="5.66" text-anchor="middle" fill="#111">episode duration (s)</text>
<text x="246.90" y="209.00" font-size="5.32" text-anchor="middle" fill="#111" transform="rotate(-90 246.90 209.00)">time spent in REM</text>
<text x="252.00" y="202.40" font-size="5.25" text-anchor="middle" fill="#111" transform="rotate(-90 252.00 202.40)">bouts per h of REM (min)</text>
<text x="105.30" y="212.06" font-size="8.50" text-anchor="middle" fill="#111">*</text>
<text x="111.30" y="207.66" font-size="8.50" text-anchor="middle" fill="#111">**</text>
<line x1="103.00" y1="210.00" x2="108.30" y2="210.00" stroke="#0a0a0a" stroke-width="0.55"/>
<line x1="103.00" y1="210.00" x2="103.00" y2="212.00" stroke="#0a0a0a" stroke-width="0.55"/>
<line x1="108.30" y1="206.30" x2="108.30" y2="212.00" stroke="#0a0a0a" stroke-width="0.55"/>
<line x1="108.30" y1="206.30" x2="113.60" y2="206.30" stroke="#0a0a0a" stroke-width="0.55"/>
<line x1="113.60" y1="206.30" x2="113.60" y2="212.00" stroke="#0a0a0a" stroke-width="0.55"/>
<text x="128.60" y="167.06" font-size="8.50" text-anchor="middle" fill="#111">*</text>
<line x1="123.30" y1="168.00" x2="123.30" y2="165.30" stroke="#0a0a0a" stroke-width="0.55"/>
<line x1="123.30" y1="165.30" x2="134.80" y2="165.30" stroke="#0a0a0a" stroke-width="0.55"/>
<line x1="134.80" y1="165.30" x2="134.80" y2="168.00" stroke="#0a0a0a" stroke-width="0.55"/>
<text x="126.00" y="177.06" font-size="8.50" text-anchor="middle" fill="#111">*</text>
<text x="132.10" y="173.56" font-size="8.50" text-anchor="middle" fill="#111">**</text>
<line x1="123.30" y1="175.50" x2="128.60" y2="175.50" stroke="#0a0a0a" stroke-width="0.55"/>
<line x1="123.30" y1="175.50" x2="123.30" y2="178.00" stroke="#0a0a0a" stroke-width="0.55"/>
<line x1="128.60" y1="172.00" x2="128.60" y2="178.00" stroke="#0a0a0a" stroke-width="0.55"/>
<line x1="128.60" y1="172.00" x2="134.80" y2="172.00" stroke="#0a0a0a" stroke-width="0.55"/>
<line x1="134.80" y1="172.00" x2="134.80" y2="177.00" stroke="#0a0a0a" stroke-width="0.55"/>
<text x="150.70" y="178.46" font-size="8.50" text-anchor="middle" fill="#111">*</text>
<line x1="145.40" y1="179.50" x2="145.40" y2="176.80" stroke="#0a0a0a" stroke-width="0.55"/>
<line x1="145.40" y1="176.80" x2="156.50" y2="176.80" stroke="#0a0a0a" stroke-width="0.55"/>
<line x1="156.50" y1="176.80" x2="156.50" y2="179.50" stroke="#0a0a0a" stroke-width="0.55"/>
<text x="147.70" y="189.06" font-size="8.50" text-anchor="middle" fill="#111">*</text>
<text x="154.20" y="185.16" font-size="8.50" text-anchor="middle" fill="#111">**</text>
<line x1="145.40" y1="187.40" x2="151.00" y2="187.40" stroke="#0a0a0a" stroke-width="0.55"/>
<line x1="145.40" y1="187.40" x2="145.40" y2="190.00" stroke="#0a0a0a" stroke-width="0.55"/>
<line x1="151.00" y1="183.90" x2="151.00" y2="190.00" stroke="#0a0a0a" stroke-width="0.55"/>
<line x1="151.00" y1="183.90" x2="156.50" y2="183.90" stroke="#0a0a0a" stroke-width="0.55"/>
<line x1="156.50" y1="183.90" x2="156.50" y2="190.00" stroke="#0a0a0a" stroke-width="0.55"/>
<text x="0.50" y="276.00" font-size="12.50" text-anchor="start" fill="#111" font-weight="bold">C</text>
<rect x="184.50" y="286.70" width="149.00" height="61.00" fill="#bfbdd5"/>
<line x1="27.80" y1="287.00" x2="27.80" y2="348.20" stroke="#0a0a0a" stroke-width="1.1"/>
<line x1="25.80" y1="347.70" x2="27.80" y2="347.70" stroke="#0a0a0a" stroke-width="0.8"/>
<text x="25.20" y="349.90" font-size="6.60" text-anchor="end" fill="#111">0</text>
<line x1="25.80" y1="339.13" x2="27.80" y2="339.13" stroke="#0a0a0a" stroke-width="0.8"/>
<text x="25.20" y="341.33" font-size="6.60" text-anchor="end" fill="#111">10</text>
<line x1="25.80" y1="330.56" x2="27.80" y2="330.56" stroke="#0a0a0a" stroke-width="0.8"/>
<text x="25.20" y="332.76" font-size="6.60" text-anchor="end" fill="#111">20</text>
<line x1="25.80" y1="321.99" x2="27.80" y2="321.99" stroke="#0a0a0a" stroke-width="0.8"/>
<text x="25.20" y="324.19" font-size="6.60" text-anchor="end" fill="#111">30</text>
<line x1="25.80" y1="313.41" x2="27.80" y2="313.41" stroke="#0a0a0a" stroke-width="0.8"/>
<text x="25.20" y="315.61" font-size="6.60" text-anchor="end" fill="#111">40</text>
<line x1="25.80" y1="304.84" x2="27.80" y2="304.84" stroke="#0a0a0a" stroke-width="0.8"/>
<text x="25.20" y="307.04" font-size="6.60" text-anchor="end" fill="#111">50</text>
<line x1="25.80" y1="296.27" x2="27.80" y2="296.27" stroke="#0a0a0a" stroke-width="0.8"/>
<text x="25.20" y="298.47" font-size="6.60" text-anchor="end" fill="#111">60</text>
<line x1="25.80" y1="287.70" x2="27.80" y2="287.70" stroke="#0a0a0a" stroke-width="0.8"/>
<text x="25.20" y="289.90" font-size="6.60" text-anchor="end" fill="#111">70</text>
<line x1="27.30" y1="347.70" x2="101.70" y2="347.70" stroke="#0a0a0a" stroke-width="1.2"/>
<line x1="104.60" y1="347.70" x2="176.70" y2="347.70" stroke="#0a0a0a" stroke-width="1.2"/>
<line x1="185.00" y1="347.70" x2="254.00" y2="347.70" stroke="#0a0a0a" stroke-width="1.2"/>
<line x1="261.80" y1="347.70" x2="333.50" y2="347.70" stroke="#0a0a0a" stroke-width="1.2"/>
<rect x="35.20" y="319.49" width="8.20" height="28.21" fill="#0a0a0a" stroke="#0a0a0a" stroke-width="1.0"/>
<line x1="39.30" y1="318.99" x2="39.30" y2="315.56" stroke="#0a0a0a" stroke-width="0.8"/>
<line x1="38.10" y1="315.56" x2="40.50" y2="315.56" stroke="#0a0a0a" stroke-width="0.8"/>
<rect x="44.40" y="321.20" width="8.20" height="26.50" fill="#6f6f72" stroke="#0a0a0a" stroke-width="1.0"/>
<line x1="48.50" y1="320.70" x2="48.50" y2="317.27" stroke="#0a0a0a" stroke-width="0.8"/>
<line x1="47.30" y1="317.27" x2="49.70" y2="317.27" stroke="#0a0a0a" stroke-width="0.8"/>
<rect x="53.60" y="313.06" width="8.20" height="34.64" fill="#ffffff" stroke="#0a0a0a" stroke-width="1.0"/>
<line x1="57.70" y1="312.56" x2="57.70" y2="308.27" stroke="#0a0a0a" stroke-width="0.8"/>
<line x1="56.50" y1="308.27" x2="58.90" y2="308.27" stroke="#0a0a0a" stroke-width="0.8"/>
<rect x="67.50" y="342.63" width="8.20" height="5.07" fill="#0a0a0a" stroke="#0a0a0a" stroke-width="1.0"/>
<line x1="71.60" y1="342.13" x2="71.60" y2="341.70" stroke="#0a0a0a" stroke-width="0.8"/>
<line x1="70.40" y1="341.70" x2="72.80" y2="341.70" stroke="#0a0a0a" stroke-width="0.8"/>
<rect x="76.70" y="343.91" width="8.20" height="3.79" fill="#6f6f72" stroke="#0a0a0a" stroke-width="1.0"/>
<line x1="80.80" y1="343.41" x2="80.80" y2="342.99" stroke="#0a0a0a" stroke-width="0.8"/>
<line x1="79.60" y1="342.99" x2="82.00" y2="342.99" stroke="#0a0a0a" stroke-width="0.8"/>
<rect x="85.90" y="343.91" width="8.20" height="3.79" fill="#ffffff" stroke="#0a0a0a" stroke-width="1.0"/>
<line x1="90.00" y1="343.41" x2="90.00" y2="343.16" stroke="#0a0a0a" stroke-width="0.8"/>
<line x1="88.80" y1="343.16" x2="91.20" y2="343.16" stroke="#0a0a0a" stroke-width="0.8"/>
<rect x="110.50" y="343.06" width="8.20" height="4.64" fill="#0a0a0a" stroke="#0a0a0a" stroke-width="1.0"/>
<line x1="114.60" y1="342.56" x2="114.60" y2="342.21" stroke="#0a0a0a" stroke-width="0.8"/>
<line x1="113.40" y1="342.21" x2="115.80" y2="342.21" stroke="#0a0a0a" stroke-width="0.8"/>
<rect x="119.70" y="342.20" width="8.20" height="5.50" fill="#6f6f72" stroke="#0a0a0a" stroke-width="1.0"/>
<line x1="123.80" y1="341.70" x2="123.80" y2="341.36" stroke="#0a0a0a" stroke-width="0.8"/>
<line x1="122.60" y1="341.36" x2="125.00" y2="341.36" stroke="#0a0a0a" stroke-width="0.8"/>
<rect x="128.90" y="340.91" width="8.20" height="6.79" fill="#ffffff" stroke="#0a0a0a" stroke-width="1.0"/>
<line x1="133.00" y1="340.41" x2="133.00" y2="340.07" stroke="#0a0a0a" stroke-width="0.8"/>
<line x1="131.80" y1="340.07" x2="134.20" y2="340.07" stroke="#0a0a0a" stroke-width="0.8"/>
<rect x="146.60" y="340.06" width="7.70" height="7.64" fill="#0a0a0a" stroke="#0a0a0a" stroke-width="1.0"/>
<line x1="150.45" y1="339.56" x2="150.45" y2="339.13" stroke="#0a0a0a" stroke-width="0.8"/>
<line x1="149.25" y1="339.13" x2="151.65" y2="339.13" stroke="#0a0a0a" stroke-width="0.8"/>
<rect x="155.30" y="339.63" width="7.70" height="8.07" fill="#6f6f72" stroke="#0a0a0a" stroke-width="1.0"/>
<line x1="159.15" y1="339.13" x2="159.15" y2="338.44" stroke="#0a0a0a" stroke-width="0.8"/>
<line x1="157.95" y1="338.44" x2="160.35" y2="338.44" stroke="#0a0a0a" stroke-width="0.8"/>
<rect x="164.00" y="338.77" width="7.70" height="8.93" fill="#ffffff" stroke="#0a0a0a" stroke-width="1.0"/>
<line x1="167.85" y1="338.27" x2="167.85" y2="337.93" stroke="#0a0a0a" stroke-width="0.8"/>
<line x1="166.65" y1="337.93" x2="169.05" y2="337.93" stroke="#0a0a0a" stroke-width="0.8"/>
<rect x="190.20" y="313.06" width="8.30" height="34.64" fill="#0a0a0a" stroke="#0a0a0a" stroke-width="1.0"/>
<line x1="194.35" y1="312.56" x2="194.35" y2="308.27" stroke="#0a0a0a" stroke-width="0.8"/>
<line x1="193.15" y1="308.27" x2="195.55" y2="308.27" stroke="#0a0a0a" stroke-width="0.8"/>
<rect x="199.50" y="311.77" width="8.30" height="35.93" fill="#6f6f72" stroke="#0a0a0a" stroke-width="1.0"/>
<line x1="203.65" y1="311.27" x2="203.65" y2="306.99" stroke="#0a0a0a" stroke-width="0.8"/>
<line x1="202.45" y1="306.99" x2="204.85" y2="306.99" stroke="#0a0a0a" stroke-width="0.8"/>
<rect x="208.80" y="300.20" width="8.30" height="47.50" fill="#ffffff" stroke="#0a0a0a" stroke-width="1.0"/>
<line x1="212.95" y1="299.70" x2="212.95" y2="294.13" stroke="#0a0a0a" stroke-width="0.8"/>
<line x1="211.75" y1="294.13" x2="214.15" y2="294.13" stroke="#0a0a0a" stroke-width="0.8"/>
<rect x="226.00" y="342.63" width="7.60" height="5.07" fill="#0a0a0a" stroke="#0a0a0a" stroke-width="1.0"/>
<line x1="229.80" y1="342.13" x2="229.80" y2="341.79" stroke="#0a0a0a" stroke-width="0.8"/>
<line x1="228.60" y1="341.79" x2="231.00" y2="341.79" stroke="#0a0a0a" stroke-width="0.8"/>
<rect x="234.60" y="343.91" width="7.60" height="3.79" fill="#6f6f72" stroke="#0a0a0a" stroke-width="1.0"/>
<line x1="238.40" y1="343.41" x2="238.40" y2="343.16" stroke="#0a0a0a" stroke-width="0.8"/>
<line x1="237.20" y1="343.16" x2="239.60" y2="343.16" stroke="#0a0a0a" stroke-width="0.8"/>
<rect x="243.20" y="343.49" width="7.60" height="4.21" fill="#ffffff" stroke="#0a0a0a" stroke-width="1.0"/>
<line x1="247.00" y1="342.99" x2="247.00" y2="342.73" stroke="#0a0a0a" stroke-width="0.8"/>
<line x1="245.80" y1="342.73" x2="248.20" y2="342.73" stroke="#0a0a0a" stroke-width="0.8"/>
<rect x="268.60" y="343.49" width="7.30" height="4.21" fill="#0a0a0a" stroke="#0a0a0a" stroke-width="1.0"/>
<line x1="272.25" y1="342.99" x2="272.25" y2="342.73" stroke="#0a0a0a" stroke-width="0.8"/>
<line x1="271.05" y1="342.73" x2="273.45" y2="342.73" stroke="#0a0a0a" stroke-width="0.8"/>
<rect x="276.90" y="342.80" width="7.30" height="4.90" fill="#6f6f72" stroke="#0a0a0a" stroke-width="1.0"/>
<line x1="280.55" y1="342.30" x2="280.55" y2="342.04" stroke="#0a0a0a" stroke-width="0.8"/>
<line x1="279.35" y1="342.04" x2="281.75" y2="342.04" stroke="#0a0a0a" stroke-width="0.8"/>
<rect x="285.20" y="341.09" width="7.30" height="6.61" fill="#ffffff" stroke="#0a0a0a" stroke-width="1.0"/>
<line x1="288.85" y1="340.59" x2="288.85" y2="340.16" stroke="#0a0a0a" stroke-width="0.8"/>
<line x1="287.65" y1="340.16" x2="290.05" y2="340.16" stroke="#0a0a0a" stroke-width="0.8"/>
<rect x="302.70" y="340.49" width="7.50" height="7.21" fill="#0a0a0a" stroke="#0a0a0a" stroke-width="1.0"/>
<line x1="306.45" y1="339.99" x2="306.45" y2="339.64" stroke="#0a0a0a" stroke-width="0.8"/>
<line x1="305.25" y1="339.64" x2="307.65" y2="339.64" stroke="#0a0a0a" stroke-width="0.8"/>
<rect x="311.20" y="340.49" width="7.50" height="7.21" fill="#6f6f72" stroke="#0a0a0a" stroke-width="1.0"/>
<line x1="314.95" y1="339.99" x2="314.95" y2="339.47" stroke="#0a0a0a" stroke-width="0.8"/>
<line x1="313.75" y1="339.47" x2="316.15" y2="339.47" stroke="#0a0a0a" stroke-width="0.8"/>
<rect x="319.70" y="337.91" width="7.50" height="9.79" fill="#ffffff" stroke="#0a0a0a" stroke-width="1.0"/>
<line x1="323.45" y1="337.41" x2="323.45" y2="337.07" stroke="#0a0a0a" stroke-width="0.8"/>
<line x1="322.25" y1="337.07" x2="324.65" y2="337.07" stroke="#0a0a0a" stroke-width="0.8"/>
<text x="12.80" y="315.60" font-size="6.96" text-anchor="middle" fill="#111" transform="rotate(-90 12.80 315.60)">EEG power (µV²/Hz)</text>
<text x="104.00" y="294.20" font-size="7.40" text-anchor="middle" fill="#111">light phase</text>
<text x="261.80" y="294.80" font-size="7.40" text-anchor="middle" fill="#111">dark phase</text>
<text x="47.80" y="356.90" font-size="6.80" text-anchor="middle" fill="#111">SWA</text>
<text x="128.00" y="356.90" font-size="6.80" text-anchor="middle" fill="#111">SWA</text>
<text x="204.00" y="356.90" font-size="6.80" text-anchor="middle" fill="#111">SWA</text>
<text x="280.50" y="356.90" font-size="6.80" text-anchor="middle" fill="#111">SWA</text>
<text x="81.30" y="356.90" font-size="6.80" text-anchor="middle" fill="#333">σ</text>
<text x="238.00" y="356.90" font-size="6.80" text-anchor="middle" fill="#333">σ</text>
<text x="155.50" y="356.90" font-size="6.60" text-anchor="middle" fill="#333">θ</text>
<text x="315.20" y="356.90" font-size="6.60" text-anchor="middle" fill="#333">θ</text>
<text x="61.00" y="367.80" font-size="7.60" text-anchor="middle" fill="#111">NREM</text>
<text x="141.90" y="367.80" font-size="7.60" text-anchor="middle" fill="#111">REM</text>
<text x="221.00" y="367.80" font-size="7.60" text-anchor="middle" fill="#111">NREM</text>
<text x="298.40" y="367.80" font-size="7.60" text-anchor="middle" fill="#111">REM</text>
<text x="124.20" y="335.41" font-size="8.80" text-anchor="middle" fill="#111">**</text>
<polyline points="115.00,335.80 115.00,334.40 133.70,334.40 133.70,335.80" fill="none" stroke="#0a0a0a" stroke-width="0.6" stroke-linejoin="round"/>
<text x="280.50" y="333.01" font-size="8.80" text-anchor="middle" fill="#111">**</text>
<polyline points="272.40,339.50 272.40,332.40 289.20,332.40 289.20,333.50" fill="none" stroke="#0a0a0a" stroke-width="0.6" stroke-linejoin="round"/>
<text x="284.90" y="340.51" font-size="8.80" text-anchor="middle" fill="#111">*</text>
<polyline points="280.50,340.00 280.50,338.60 289.20,338.60 289.20,339.70" fill="none" stroke="#0a0a0a" stroke-width="0.6" stroke-linejoin="round"/>
<rect x="156.40" y="254.00" width="47.60" height="34.20" fill="#ffffff" stroke="#a8a8a8" stroke-width="0.8"/>
<rect x="169.95" y="257.65" width="5.30" height="3.80" fill="#0a0a0a" stroke="#0a0a0a" stroke-width="0.9"/>
<line x1="167.90" y1="262.90" x2="176.80" y2="262.90" stroke="#0a0a0a" stroke-width="1.0"/>
<text x="179.30" y="262.00" font-size="6.63" text-anchor="start" fill="#111">WT</text>
<rect x="161.15" y="267.85" width="4.30" height="3.40" fill="#6f6f72" stroke="#0a0a0a" stroke-width="0.9"/>
<line x1="159.00" y1="273.40" x2="167.90" y2="273.40" stroke="#555" stroke-width="1.0"/>
<text x="169.50" y="271.80" font-size="6.62" fill="#111">Ca<tspan font-size="3.97" dy="1.66">V</tspan><tspan dy="-1.66">3.2KO</tspan></text>
<rect x="161.15" y="277.75" width="4.30" height="3.70" fill="#ffffff" stroke="#0a0a0a" stroke-width="0.9"/>
<line x1="159.00" y1="284.00" x2="167.90" y2="284.00" stroke="#b0b0b0" stroke-width="1.0"/>
<text x="169.50" y="281.90" font-size="6.39" fill="#111">Ca<tspan font-size="3.83" dy="1.60">V</tspan><tspan dy="-1.60">3.DKO</tspan></text>
<text x="357.30" y="17.20" font-size="12.50" text-anchor="start" fill="#111" font-weight="bold">D</text>
<line x1="382.00" y1="29.50" x2="382.00" y2="128.90" stroke="#0a0a0a" stroke-width="1.1"/>
<line x1="380.00" y1="128.40" x2="382.00" y2="128.40" stroke="#0a0a0a" stroke-width="0.8"/>
<text x="379.70" y="131.20" font-size="6.60" text-anchor="end" fill="#111">0</text>
<line x1="380.00" y1="103.80" x2="382.00" y2="103.80" stroke="#0a0a0a" stroke-width="0.8"/>
<text x="379.70" y="106.60" font-size="6.60" text-anchor="end" fill="#111">1</text>
<line x1="380.00" y1="79.20" x2="382.00" y2="79.20" stroke="#0a0a0a" stroke-width="0.8"/>
<text x="379.70" y="82.00" font-size="6.60" text-anchor="end" fill="#111">2</text>
<line x1="380.00" y1="54.60" x2="382.00" y2="54.60" stroke="#0a0a0a" stroke-width="0.8"/>
<text x="379.70" y="57.40" font-size="6.60" text-anchor="end" fill="#111">3</text>
<line x1="380.00" y1="30.00" x2="382.00" y2="30.00" stroke="#0a0a0a" stroke-width="0.8"/>
<text x="379.70" y="32.80" font-size="6.60" text-anchor="end" fill="#111">4</text>
<line x1="381.50" y1="128.40" x2="520.88" y2="128.40" stroke="#0a0a0a" stroke-width="1.2"/>
<line x1="383.50" y1="128.40" x2="383.50" y2="130.40" stroke="#0a0a0a" stroke-width="0.8"/>
<text x="383.50" y="135.80" font-size="6.60" text-anchor="middle" fill="#111">0</text>
<line x1="410.88" y1="128.40" x2="410.88" y2="130.40" stroke="#0a0a0a" stroke-width="0.8"/>
<text x="410.88" y="135.80" font-size="6.60" text-anchor="middle" fill="#111">5</text>
<line x1="438.25" y1="128.40" x2="438.25" y2="130.40" stroke="#0a0a0a" stroke-width="0.8"/>
<text x="438.25" y="135.80" font-size="6.60" text-anchor="middle" fill="#111">10</text>
<line x1="465.62" y1="128.40" x2="465.62" y2="130.40" stroke="#0a0a0a" stroke-width="0.8"/>
<text x="465.62" y="135.80" font-size="6.60" text-anchor="middle" fill="#111">15</text>
<line x1="493.00" y1="128.40" x2="493.00" y2="130.40" stroke="#0a0a0a" stroke-width="0.8"/>
<text x="493.00" y="135.80" font-size="6.60" text-anchor="middle" fill="#111">20</text>
<line x1="520.38" y1="128.40" x2="520.38" y2="130.40" stroke="#0a0a0a" stroke-width="0.8"/>
<text x="520.38" y="135.80" font-size="6.60" text-anchor="middle" fill="#111">25</text>
<text x="454.20" y="143.60" font-size="6.37" text-anchor="middle" fill="#111">EEG frequency (Hz)</text>
<text x="372.00" y="80.00" font-size="6.69" text-anchor="middle" fill="#111" transform="rotate(-90 372.00 80.00)">% EEG power</text>
<text x="451.50" y="18.00" font-size="7.60" text-anchor="middle" fill="#111">NREM</text>
<line x1="388.98" y1="28.00" x2="388.98" y2="128.40" stroke="#707070" stroke-width="0.6" stroke-dasharray="2,1.6"/>
<line x1="405.40" y1="28.00" x2="405.40" y2="128.40" stroke="#707070" stroke-width="0.6" stroke-dasharray="2,1.6"/>
<line x1="438.25" y1="83.00" x2="438.25" y2="128.40" stroke="#707070" stroke-width="0.6" stroke-dasharray="2,1.6"/>
<line x1="465.62" y1="83.00" x2="465.62" y2="128.40" stroke="#707070" stroke-width="0.6" stroke-dasharray="2,1.6"/>
<text x="397.40" y="26.80" font-size="7.00" text-anchor="middle" fill="#111" font-style="italic">SWA</text>
<text x="451.50" y="90.00" font-size="7.20" text-anchor="middle" fill="#333">σ</text>
<rect x="397.60" y="125.40" width="15.80" height="2.60" fill="#b02638"/>
<rect x="429.80" y="125.40" width="4.20" height="2.60" fill="#e69a3a"/>
<rect x="434.00" y="125.40" width="86.20" height="2.60" fill="#b02638"/>
<line x1="381.50" y1="128.60" x2="521.00" y2="128.60" stroke="#2a0a10" stroke-width="1.0"/>
<polyline points="388.98,66.90 389.20,65.42 389.43,63.87 389.66,62.28 389.89,60.65 390.12,59.03 390.34,57.44 390.57,55.89 390.80,54.41 391.03,53.03 391.26,51.76 391.48,50.64 391.71,49.68 391.96,48.75 392.21,47.87 392.47,47.04 392.72,46.25 392.97,45.52 393.22,44.82 393.47,44.17 393.72,43.57 393.97,43.00 394.22,42.48 394.47,42.00 394.72,41.56 395.13,40.88 395.54,40.20 395.94,39.53 396.35,38.89 396.75,38.28 397.16,37.71 397.57,37.21 397.97,36.77 398.38,36.41 398.78,36.13 399.19,35.96 399.60,35.90 400.01,35.97 400.42,36.14 400.83,36.43 401.24,36.80 401.65,37.26 402.06,37.79 402.47,38.37 402.88,39.01 403.29,39.68 403.70,40.38 404.11,41.09 404.52,41.81 404.85,42.43 405.17,43.16 405.50,43.98 405.82,44.88 406.14,45.85 406.47,46.87 406.79,47.94 407.12,49.03 407.44,50.13 407.76,51.23 408.09,52.31 408.41,53.37 408.74,54.42 409.06,55.50 409.38,56.60 409.71,57.71 410.03,58.84 410.35,59.99 410.68,61.14 411.00,62.29 411.33,63.45 411.65,64.61 411.97,65.76 412.30,66.90 412.62,68.07 412.95,69.28 413.27,70.52 413.59,71.78 413.92,73.05 414.24,74.30 414.57,75.52 414.89,76.69 415.21,77.81 415.54,78.86 415.86,79.82 416.19,80.68 416.68,81.84 417.17,82.92 417.66,83.92 418.16,84.85 418.65,85.73 419.14,86.57 419.63,87.38 420.13,88.18 420.62,88.98 421.11,89.79 421.61,90.63 422.10,91.50 422.66,92.53 423.21,93.60 423.77,94.68 424.33,95.78 424.88,96.87 425.44,97.95 426.00,99.01 426.55,100.04 427.11,101.01 427.67,101.93 428.22,102.78 428.78,103.55 429.58,104.58 430.38,105.57 431.19,106.52 431.99,107.43 432.79,108.30 433.60,109.13 434.40,109.91 435.20,110.65 436.01,111.34 436.81,111.99 437.61,112.59 438.41,113.15 439.33,113.74 440.25,114.31 441.17,114.85 442.08,115.36 443.00,115.85 443.92,116.31 444.83,116.74 445.75,117.16 446.67,117.54 447.58,117.90 448.50,118.24 449.42,118.56 450.77,119.00 452.12,119.41 453.47,119.79 454.82,120.16 456.17,120.50 457.52,120.83 458.87,121.14 460.22,121.43 461.57,121.71 462.92,121.98 464.27,122.24 465.62,122.50 466.72,122.69 467.81,122.89 468.91,123.08 470.00,123.26 471.10,123.44 472.19,123.61 473.29,123.77 474.38,123.92 475.48,124.07 476.57,124.21 477.67,124.34 478.76,124.46 480.00,124.59 481.23,124.72 482.46,124.84 483.69,124.95 484.92,125.06 486.16,125.17 487.39,125.26 488.62,125.36 489.85,125.45 491.08,125.54 492.32,125.62 493.55,125.69 495.78,125.82 498.02,125.95 500.25,126.06 502.49,126.16 504.73,126.26 506.96,126.36 509.20,126.45 511.43,126.54 513.67,126.64 515.90,126.73 518.14,126.82 520.38,126.92" fill="none" stroke="#a8a8a8" stroke-width="0.9" stroke-linejoin="round"/>
<polyline points="388.98,76.74 389.20,74.96 389.43,73.13 389.66,71.26 389.89,69.37 390.12,67.48 390.34,65.62 390.57,63.78 390.80,62.01 391.03,60.30 391.26,58.69 391.48,57.20 391.71,55.83 391.96,54.37 392.21,52.85 392.47,51.31 392.72,49.79 392.97,48.31 393.22,46.93 393.47,45.66 393.72,44.54 393.97,43.61 394.22,42.91 394.47,42.46 394.72,42.30 395.21,42.35 395.70,42.50 396.19,42.73 396.68,43.05 397.16,43.43 397.65,43.87 398.14,44.36 398.63,44.89 399.12,45.45 399.61,46.03 400.09,46.62 400.58,47.22 401.07,47.88 401.55,48.66 402.03,49.56 402.52,50.55 403.00,51.63 403.48,52.76 403.97,53.95 404.45,55.16 404.93,56.39 405.42,57.62 405.90,58.83 406.39,60.01 406.88,61.22 407.37,62.47 407.86,63.76 408.36,65.08 408.85,66.42 409.34,67.77 409.83,69.11 410.33,70.45 410.82,71.77 411.31,73.06 411.81,74.31 412.30,75.51 412.62,76.29 412.95,77.07 413.27,77.85 413.59,78.62 413.92,79.39 414.24,80.14 414.57,80.87 414.89,81.58 415.21,82.27 415.54,82.92 415.86,83.54 416.19,84.12 416.51,84.65 416.82,85.16 417.14,85.64 417.46,86.09 417.78,86.53 418.10,86.96 418.42,87.38 418.74,87.80 419.06,88.22 419.38,88.64 419.70,89.08 420.02,89.53 420.75,90.61 421.48,91.74 422.21,92.90 422.94,94.09 423.67,95.27 424.40,96.45 425.13,97.60 425.86,98.72 426.59,99.79 427.32,100.80 428.05,101.73 428.78,102.57 429.58,103.42 430.38,104.24 431.19,105.02 431.99,105.77 432.79,106.49 433.60,107.18 434.40,107.84 435.20,108.46 436.01,109.06 436.81,109.63 437.61,110.17 438.41,110.69 439.33,111.25 440.25,111.79 441.17,112.32 442.08,112.82 443.00,113.30 443.92,113.76 444.83,114.20 445.75,114.62 446.67,115.02 447.58,115.40 448.50,115.76 449.42,116.10 450.77,116.57 452.12,117.01 453.47,117.43 454.82,117.83 456.17,118.20 457.52,118.57 458.87,118.91 460.22,119.25 461.57,119.58 462.92,119.90 464.27,120.21 465.62,120.53 466.72,120.78 467.81,121.03 468.91,121.28 470.00,121.53 471.10,121.77 472.19,122.00 473.29,122.22 474.38,122.44 475.48,122.66 476.57,122.86 477.67,123.05 478.76,123.23 480.00,123.43 481.23,123.63 482.46,123.82 483.69,124.00 484.92,124.18 486.16,124.35 487.39,124.52 488.62,124.67 489.85,124.82 491.08,124.96 492.32,125.09 493.55,125.20 495.78,125.39 498.02,125.57 500.25,125.73 502.49,125.88 504.73,126.02 506.96,126.15 509.20,126.28 511.43,126.40 513.67,126.53 515.90,126.65 518.14,126.78 520.38,126.92" fill="none" stroke="#5a5a5a" stroke-width="1.0" stroke-linejoin="round"/>
<polyline points="388.98,75.02 389.20,73.28 389.43,71.47 389.66,69.63 389.89,67.76 390.12,65.89 390.34,64.05 390.57,62.24 390.80,60.50 391.03,58.85 391.26,57.30 391.48,55.88 391.71,54.60 391.96,53.26 392.21,51.88 392.47,50.50 392.72,49.14 392.97,47.83 393.22,46.60 393.47,45.48 393.72,44.50 393.97,43.69 394.22,43.07 394.47,42.68 394.72,42.55 395.21,42.59 395.70,42.70 396.19,42.88 396.68,43.12 397.16,43.42 397.65,43.76 398.14,44.15 398.63,44.57 399.12,45.02 399.61,45.49 400.09,45.98 400.58,46.48 401.07,47.06 401.55,47.80 402.03,48.67 402.52,49.65 403.00,50.72 403.48,51.88 403.97,53.08 404.45,54.33 404.93,55.59 405.42,56.85 405.90,58.08 406.39,59.27 406.88,60.49 407.37,61.76 407.86,63.07 408.36,64.42 408.85,65.78 409.34,67.15 409.83,68.53 410.33,69.89 410.82,71.23 411.31,72.54 411.81,73.80 412.30,75.02 412.62,75.80 412.95,76.58 413.27,77.36 413.59,78.14 413.92,78.90 414.24,79.65 414.57,80.39 414.89,81.10 415.21,81.78 415.54,82.43 415.86,83.05 416.19,83.63 416.51,84.16 416.82,84.67 417.14,85.14 417.46,85.60 417.78,86.04 418.10,86.47 418.42,86.89 418.74,87.31 419.06,87.73 419.38,88.15 419.70,88.59 420.02,89.04 420.75,90.13 421.48,91.26 422.21,92.44 422.94,93.63 423.67,94.84 424.40,96.03 425.13,97.19 425.86,98.32 426.59,99.38 427.32,100.37 428.05,101.28 428.78,102.08 429.58,102.87 430.38,103.62 431.19,104.32 431.99,104.99 432.79,105.62 433.60,106.23 434.40,106.81 435.20,107.37 436.01,107.91 436.81,108.43 437.61,108.95 438.41,109.46 439.33,110.04 440.25,110.61 441.17,111.17 442.08,111.72 443.00,112.26 443.92,112.77 444.83,113.27 445.75,113.74 446.67,114.19 447.58,114.62 448.50,115.01 449.42,115.36 450.77,115.84 452.12,116.30 453.47,116.72 454.82,117.12 456.17,117.49 457.52,117.85 458.87,118.19 460.22,118.52 461.57,118.85 462.92,119.16 464.27,119.48 465.62,119.79 466.72,120.04 467.81,120.29 468.91,120.53 470.00,120.77 471.10,121.00 472.19,121.22 473.29,121.45 474.38,121.66 475.48,121.88 476.57,122.09 477.67,122.29 478.76,122.50 480.00,122.73 481.23,122.96 482.46,123.20 483.69,123.43 484.92,123.67 486.16,123.89 487.39,124.11 488.62,124.31 489.85,124.50 491.08,124.67 492.32,124.83 493.55,124.96 494.78,125.07 496.01,125.17 497.24,125.26 498.48,125.34 499.71,125.42 500.94,125.50 502.17,125.57 503.40,125.64 504.63,125.71 505.87,125.78 507.10,125.86 508.33,125.94 509.33,126.01 510.34,126.08 511.34,126.15 512.35,126.22 513.35,126.29 514.35,126.37 515.36,126.44 516.36,126.51 517.36,126.58 518.37,126.66 519.37,126.73 520.38,126.80" fill="none" stroke="#0a0a0a" stroke-width="1.35" stroke-linejoin="round"/>
<line x1="552.10" y1="29.50" x2="552.10" y2="128.90" stroke="#0a0a0a" stroke-width="1.1"/>
<line x1="550.10" y1="128.40" x2="552.10" y2="128.40" stroke="#0a0a0a" stroke-width="0.8"/>
<text x="549.80" y="131.20" font-size="6.60" text-anchor="end" fill="#111">0</text>
<line x1="550.10" y1="103.80" x2="552.10" y2="103.80" stroke="#0a0a0a" stroke-width="0.8"/>
<text x="549.80" y="106.60" font-size="6.60" text-anchor="end" fill="#111">1</text>
<line x1="550.10" y1="79.20" x2="552.10" y2="79.20" stroke="#0a0a0a" stroke-width="0.8"/>
<text x="549.80" y="82.00" font-size="6.60" text-anchor="end" fill="#111">2</text>
<line x1="550.10" y1="54.60" x2="552.10" y2="54.60" stroke="#0a0a0a" stroke-width="0.8"/>
<text x="549.80" y="57.40" font-size="6.60" text-anchor="end" fill="#111">3</text>
<line x1="550.10" y1="30.00" x2="552.10" y2="30.00" stroke="#0a0a0a" stroke-width="0.8"/>
<text x="549.80" y="32.80" font-size="6.60" text-anchor="end" fill="#111">4</text>
<line x1="551.60" y1="128.40" x2="690.00" y2="128.40" stroke="#0a0a0a" stroke-width="1.2"/>
<line x1="553.50" y1="128.40" x2="553.50" y2="130.40" stroke="#0a0a0a" stroke-width="0.8"/>
<text x="553.50" y="135.80" font-size="6.60" text-anchor="middle" fill="#111">0</text>
<line x1="580.70" y1="128.40" x2="580.70" y2="130.40" stroke="#0a0a0a" stroke-width="0.8"/>
<text x="580.70" y="135.80" font-size="6.60" text-anchor="middle" fill="#111">5</text>
<line x1="607.90" y1="128.40" x2="607.90" y2="130.40" stroke="#0a0a0a" stroke-width="0.8"/>
<text x="607.90" y="135.80" font-size="6.60" text-anchor="middle" fill="#111">10</text>
<line x1="635.10" y1="128.40" x2="635.10" y2="130.40" stroke="#0a0a0a" stroke-width="0.8"/>
<text x="635.10" y="135.80" font-size="6.60" text-anchor="middle" fill="#111">15</text>
<line x1="662.30" y1="128.40" x2="662.30" y2="130.40" stroke="#0a0a0a" stroke-width="0.8"/>
<text x="662.30" y="135.80" font-size="6.60" text-anchor="middle" fill="#111">20</text>
<line x1="689.50" y1="128.40" x2="689.50" y2="130.40" stroke="#0a0a0a" stroke-width="0.8"/>
<text x="689.50" y="135.80" font-size="6.60" text-anchor="middle" fill="#111">25</text>
<text x="624.20" y="143.60" font-size="6.37" text-anchor="middle" fill="#111">EEG frequency (Hz)</text>
<text x="542.10" y="80.00" font-size="6.69" text-anchor="middle" fill="#111" transform="rotate(-90 542.10 80.00)">% EEG power</text>
<text x="620.90" y="18.00" font-size="7.60" text-anchor="middle" fill="#111">REM</text>
<line x1="580.70" y1="25.50" x2="580.70" y2="128.40" stroke="#707070" stroke-width="0.6" stroke-dasharray="2,1.6"/>
<line x1="597.02" y1="25.50" x2="597.02" y2="128.40" stroke="#707070" stroke-width="0.6" stroke-dasharray="2,1.6"/>
<text x="588.80" y="29.00" font-size="7.00" text-anchor="middle" fill="#333">θ</text>
<polyline points="558.94,96.42 561.66,85.35 564.38,80.43 567.10,79.20 569.82,74.28 572.54,79.20 575.26,85.35 577.98,89.04 580.70,92.48 583.42,89.04 586.14,82.89 588.86,64.44 591.58,45.99 594.30,57.06 597.02,68.13 599.74,79.20 602.46,91.50 605.18,100.11 607.90,106.26 613.34,112.41 618.78,115.61 624.22,117.33 635.10,119.30 645.98,120.77 662.30,122.74 689.50,124.96" fill="none" stroke="#b0b0b0" stroke-width="0.9" stroke-linejoin="round"/>
<polyline points="558.94,96.42 561.66,86.58 564.38,81.66 567.10,84.12 569.82,77.97 572.54,81.66 575.26,86.58 577.98,90.27 580.70,93.96 583.42,90.27 586.14,81.66 588.86,59.52 591.58,39.84 594.30,52.14 597.02,64.44 599.74,76.74 602.46,90.27 605.18,98.88 607.90,105.03 613.34,111.92 618.78,115.12 624.22,117.33 635.10,119.30 645.98,120.77 662.30,122.74 689.50,124.96" fill="none" stroke="#6a6a6a" stroke-width="0.9" stroke-linejoin="round"/>
<polyline points="558.94,97.65 561.66,89.04 564.38,85.10 567.10,86.58 569.82,84.12 572.54,86.09 575.26,89.53 577.98,91.99 580.70,94.70 583.42,90.27 586.14,80.43 588.86,57.06 591.58,32.46 594.30,47.22 597.02,61.00 599.74,74.28 602.46,87.81 605.18,97.65 607.90,104.29 613.34,111.92 618.78,114.87 624.22,117.33 635.10,119.30 645.98,120.77 662.30,122.74 689.50,124.96" fill="none" stroke="#0a0a0a" stroke-width="1.1" stroke-linejoin="round"/>
<line x1="438.90" y1="32.70" x2="438.90" y2="66.50" stroke="#0a0a0a" stroke-width="1.0"/>
<line x1="438.40" y1="66.00" x2="468.60" y2="66.00" stroke="#0a0a0a" stroke-width="1.0"/>
<line x1="437.10" y1="66.00" x2="438.90" y2="66.00" stroke="#0a0a0a" stroke-width="0.7"/>
<text x="436.60" y="68.20" font-size="6.20" text-anchor="end" fill="#111">0</text>
<line x1="437.10" y1="49.60" x2="438.90" y2="49.60" stroke="#0a0a0a" stroke-width="0.7"/>
<text x="436.60" y="51.80" font-size="6.20" text-anchor="end" fill="#111">2</text>
<line x1="437.10" y1="33.20" x2="438.90" y2="33.20" stroke="#0a0a0a" stroke-width="0.7"/>
<text x="436.60" y="35.40" font-size="6.20" text-anchor="end" fill="#111">4</text>
<rect x="442.85" y="41.85" width="7.70" height="24.15" fill="#0a0a0a" stroke="#0a0a0a" stroke-width="0.9"/>
<line x1="446.70" y1="41.40" x2="446.70" y2="40.40" stroke="#0a0a0a" stroke-width="0.7"/>
<line x1="445.50" y1="40.40" x2="447.90" y2="40.40" stroke="#0a0a0a" stroke-width="0.7"/>
<rect x="451.45" y="41.44" width="7.70" height="24.56" fill="#6f6f72" stroke="#0a0a0a" stroke-width="0.9"/>
<line x1="455.30" y1="40.99" x2="455.30" y2="39.99" stroke="#0a0a0a" stroke-width="0.7"/>
<line x1="454.10" y1="39.99" x2="456.50" y2="39.99" stroke="#0a0a0a" stroke-width="0.7"/>
<rect x="460.05" y="40.62" width="7.70" height="25.38" fill="#ffffff" stroke="#0a0a0a" stroke-width="0.9"/>
<line x1="463.90" y1="40.17" x2="463.90" y2="39.17" stroke="#0a0a0a" stroke-width="0.7"/>
<line x1="462.70" y1="39.17" x2="465.10" y2="39.17" stroke="#0a0a0a" stroke-width="0.7"/>
<text x="456.00" y="75.40" font-size="6.80" text-anchor="middle" fill="#222">SWA</text>
<text x="431.80" y="40.80" font-size="6.40" text-anchor="middle" fill="#111" transform="rotate(-90 431.80 40.80)">%</text>
<line x1="483.20" y1="32.70" x2="483.20" y2="66.50" stroke="#0a0a0a" stroke-width="1.0"/>
<line x1="482.70" y1="66.00" x2="515.80" y2="66.00" stroke="#0a0a0a" stroke-width="1.0"/>
<line x1="481.40" y1="66.00" x2="483.20" y2="66.00" stroke="#0a0a0a" stroke-width="0.7"/>
<text x="480.90" y="68.20" font-size="6.20" text-anchor="end" fill="#111">0</text>
<line x1="481.40" y1="49.60" x2="483.20" y2="49.60" stroke="#0a0a0a" stroke-width="0.7"/>
<text x="480.90" y="51.80" font-size="6.20" text-anchor="end" fill="#111">0.5</text>
<line x1="481.40" y1="33.20" x2="483.20" y2="33.20" stroke="#0a0a0a" stroke-width="0.7"/>
<text x="480.90" y="35.40" font-size="6.20" text-anchor="end" fill="#111">1</text>
<rect x="489.45" y="47.75" width="7.90" height="18.25" fill="#0a0a0a" stroke="#0a0a0a" stroke-width="0.9"/>
<line x1="493.40" y1="47.30" x2="493.40" y2="46.30" stroke="#0a0a0a" stroke-width="0.7"/>
<line x1="492.20" y1="46.30" x2="494.60" y2="46.30" stroke="#0a0a0a" stroke-width="0.7"/>
<rect x="498.25" y="48.41" width="7.90" height="17.59" fill="#6f6f72" stroke="#0a0a0a" stroke-width="0.9"/>
<line x1="502.20" y1="47.96" x2="502.20" y2="46.96" stroke="#0a0a0a" stroke-width="0.7"/>
<line x1="501.00" y1="46.96" x2="503.40" y2="46.96" stroke="#0a0a0a" stroke-width="0.7"/>
<rect x="507.05" y="53.33" width="7.90" height="12.67" fill="#ffffff" stroke="#0a0a0a" stroke-width="0.9"/>
<line x1="511.00" y1="52.88" x2="511.00" y2="51.88" stroke="#0a0a0a" stroke-width="0.7"/>
<line x1="509.80" y1="51.88" x2="512.20" y2="51.88" stroke="#0a0a0a" stroke-width="0.7"/>
<text x="502.50" y="75.40" font-size="6.80" text-anchor="middle" fill="#222">σ</text>
<line x1="650.20" y1="32.70" x2="650.20" y2="66.50" stroke="#0a0a0a" stroke-width="1.0"/>
<line x1="649.70" y1="66.00" x2="685.60" y2="66.00" stroke="#0a0a0a" stroke-width="1.0"/>
<line x1="648.40" y1="66.00" x2="650.20" y2="66.00" stroke="#0a0a0a" stroke-width="0.7"/>
<text x="647.90" y="68.20" font-size="6.20" text-anchor="end" fill="#111">0</text>
<line x1="648.40" y1="55.07" x2="650.20" y2="55.07" stroke="#0a0a0a" stroke-width="0.7"/>
<text x="647.90" y="57.27" font-size="6.20" text-anchor="end" fill="#111">1</text>
<line x1="648.40" y1="44.13" x2="650.20" y2="44.13" stroke="#0a0a0a" stroke-width="0.7"/>
<text x="647.90" y="46.33" font-size="6.20" text-anchor="end" fill="#111">2</text>
<line x1="648.40" y1="33.20" x2="650.20" y2="33.20" stroke="#0a0a0a" stroke-width="0.7"/>
<text x="647.90" y="35.40" font-size="6.20" text-anchor="end" fill="#111">3</text>
<rect x="655.15" y="40.21" width="8.10" height="25.79" fill="#0a0a0a" stroke="#0a0a0a" stroke-width="0.9"/>
<line x1="659.20" y1="39.76" x2="659.20" y2="38.76" stroke="#0a0a0a" stroke-width="0.7"/>
<line x1="658.00" y1="38.76" x2="660.40" y2="38.76" stroke="#0a0a0a" stroke-width="0.7"/>
<rect x="664.15" y="41.85" width="8.10" height="24.15" fill="#6f6f72" stroke="#0a0a0a" stroke-width="0.9"/>
<line x1="668.20" y1="41.40" x2="668.20" y2="40.40" stroke="#0a0a0a" stroke-width="0.7"/>
<line x1="667.00" y1="40.40" x2="669.40" y2="40.40" stroke="#0a0a0a" stroke-width="0.7"/>
<rect x="673.15" y="42.40" width="8.10" height="23.60" fill="#ffffff" stroke="#0a0a0a" stroke-width="0.9"/>
<line x1="677.20" y1="41.95" x2="677.20" y2="40.95" stroke="#0a0a0a" stroke-width="0.7"/>
<line x1="676.00" y1="40.95" x2="678.40" y2="40.95" stroke="#0a0a0a" stroke-width="0.7"/>
<text x="668.10" y="75.40" font-size="6.80" text-anchor="middle" fill="#222">θ</text>
<text x="643.30" y="40.80" font-size="6.40" text-anchor="middle" fill="#111" transform="rotate(-90 643.30 40.80)">%</text>
<text x="502.40" y="37.66" font-size="8.50" text-anchor="middle" fill="#111">**</text>
<polyline points="493.40,44.70 493.40,36.30 511.50,36.30 511.50,37.80" fill="none" stroke="#0a0a0a" stroke-width="0.6" stroke-linejoin="round"/>
<text x="506.50" y="44.46" font-size="8.50" text-anchor="middle" fill="#111">**</text>
<polyline points="502.40,46.20 502.40,43.90 511.50,43.90 511.50,45.40" fill="none" stroke="#0a0a0a" stroke-width="0.6" stroke-linejoin="round"/>
<rect x="489.45" y="88.65" width="4.70" height="4.50" fill="#0a0a0a" stroke="#0a0a0a" stroke-width="0.9"/>
<line x1="487.20" y1="94.90" x2="496.30" y2="94.90" stroke="#0a0a0a" stroke-width="1.0"/>
<text x="498.00" y="94.20" font-size="6.43" text-anchor="start" fill="#111">WT</text>
<rect x="480.85" y="98.95" width="4.10" height="3.90" fill="#6f6f72" stroke="#0a0a0a" stroke-width="0.9"/>
<line x1="478.60" y1="104.30" x2="486.90" y2="104.30" stroke="#555" stroke-width="1.0"/>
<text x="487.90" y="104.20" font-size="6.54" fill="#111">Ca<tspan font-size="3.92" dy="1.63">V</tspan><tspan dy="-1.63">3.2KO</tspan></text>
<rect x="480.85" y="109.35" width="4.10" height="3.80" fill="#ffffff" stroke="#0a0a0a" stroke-width="0.9"/>
<line x1="478.60" y1="114.60" x2="486.90" y2="114.60" stroke="#aaa" stroke-width="1.0"/>
<text x="487.90" y="114.20" font-size="6.30" fill="#111">Ca<tspan font-size="3.78" dy="1.58">V</tspan><tspan dy="-1.58">3.DKO</tspan></text>
<rect x="659.45" y="88.65" width="4.70" height="4.50" fill="#0a0a0a" stroke="#0a0a0a" stroke-width="0.9"/>
<line x1="657.20" y1="94.90" x2="666.30" y2="94.90" stroke="#0a0a0a" stroke-width="1.0"/>
<text x="668.00" y="94.20" font-size="6.43" text-anchor="start" fill="#111">WT</text>
<rect x="650.85" y="98.95" width="4.10" height="3.90" fill="#6f6f72" stroke="#0a0a0a" stroke-width="0.9"/>
<line x1="648.60" y1="104.30" x2="656.90" y2="104.30" stroke="#555" stroke-width="1.0"/>
<text x="657.90" y="104.20" font-size="6.54" fill="#111">Ca<tspan font-size="3.92" dy="1.63">V</tspan><tspan dy="-1.63">3.2KO</tspan></text>
<rect x="650.85" y="109.35" width="4.10" height="3.80" fill="#ffffff" stroke="#0a0a0a" stroke-width="0.9"/>
<line x1="648.60" y1="114.60" x2="656.90" y2="114.60" stroke="#aaa" stroke-width="1.0"/>
<text x="657.90" y="114.20" font-size="6.30" fill="#111">Ca<tspan font-size="3.78" dy="1.58">V</tspan><tspan dy="-1.58">3.DKO</tspan></text>
<text x="357.00" y="166.00" font-size="12.50" text-anchor="start" fill="#111" font-weight="bold">E</text>
<text x="372.10" y="175.80" font-size="6.40" text-anchor="start" fill="#111">σ band-pass</text>
<text x="435.50" y="180.00" font-size="6.55" text-anchor="middle" fill="#111">NREM</text>
<text x="462.90" y="180.00" font-size="6.53" text-anchor="middle" fill="#111">REM</text>
<text x="372.20" y="202.10" font-size="6.43" text-anchor="middle" fill="#111">WT</text>
<text x="357.90" y="225.50" font-size="6.47" fill="#111">Ca<tspan font-size="3.88" dy="1.62">V</tspan><tspan dy="-1.62">3.2KO</tspan></text>
<text x="357.90" y="249.00" font-size="6.33" fill="#111">Ca<tspan font-size="3.80" dy="1.58">V</tspan><tspan dy="-1.58">3.DKO</tspan></text>
<line x1="450.60" y1="173.40" x2="450.60" y2="269.00" stroke="#333" stroke-width="0.7" stroke-dasharray="1.6,1.2"/>
<polygon points="384.60,201.25 385.10,200.45 385.60,199.45 386.10,199.03 386.60,197.18 387.10,197.37 387.60,198.11 388.10,198.12 388.60,198.31 389.10,198.39 389.60,199.10 390.10,198.94 390.60,199.06 391.10,198.34 391.60,198.35 392.10,198.90 392.60,198.10 393.10,198.26 393.60,198.76 394.10,199.07 394.60,199.69 395.10,200.02 395.60,199.82 396.10,200.17 396.60,199.99 397.10,199.74 397.60,199.60 398.10,198.90 398.60,198.56 399.10,197.87 399.60,197.95 400.10,197.71 400.60,197.84 401.10,197.76 401.60,198.07 402.10,198.35 402.60,197.73 403.10,197.72 403.60,197.76 404.10,197.70 404.60,197.87 405.10,197.73 405.60,197.49 406.10,197.63 406.60,196.87 407.10,197.42 407.60,197.21 408.10,198.04 408.60,197.89 409.10,198.40 409.60,199.42 410.10,199.45 410.60,199.02 411.10,199.34 411.60,198.85 412.10,199.16 412.60,199.28 413.10,198.72 413.60,198.57 414.10,199.06 414.60,199.34 415.10,199.32 415.60,199.02 416.10,199.33 416.60,199.85 417.10,199.70 417.60,199.64 418.10,199.40 418.60,198.42 419.10,198.57 419.60,197.84 420.10,197.65 420.60,197.73 421.10,197.08 421.60,197.77 422.10,197.36 422.60,198.09 423.10,197.96 423.60,198.30 424.10,198.31 424.60,197.62 425.10,197.69 425.60,198.04 426.10,197.30 426.60,197.89 427.10,197.68 427.60,197.29 428.10,197.72 428.60,198.54 429.10,198.10 429.60,199.17 430.10,199.47 430.60,199.37 431.10,199.84 431.60,199.89 432.10,199.96 432.60,199.78 433.10,199.18 433.60,199.22 434.10,198.74 434.60,198.83 435.10,198.74 435.60,198.36 436.10,198.87 436.60,198.91 437.10,198.76 437.60,199.31 438.10,199.23 438.60,198.39 439.10,198.15 439.60,198.31 440.10,198.02 440.60,197.12 441.10,196.65 441.60,197.37 442.10,196.54 442.60,196.77 443.10,197.32 443.60,197.79 444.10,198.37 444.60,198.65 445.10,197.94 445.60,198.65 446.10,198.20 446.60,198.52 447.10,198.22 447.60,198.70 448.10,199.23 448.60,199.58 449.10,199.46 449.60,200.18 450.10,200.34 450.60,200.41 451.10,200.54 451.60,200.95 452.10,201.43 452.60,201.25 453.10,201.60 453.60,201.70 454.10,201.57 454.60,201.44 455.10,201.51 455.60,201.36 456.10,201.16 456.60,200.98 457.10,201.14 457.60,201.02 458.10,200.79 458.60,200.82 459.10,201.07 459.60,201.17 460.10,201.33 460.60,201.59 461.10,201.68 461.60,201.70 462.10,201.29 462.60,201.30 463.10,201.08 463.60,201.40 464.10,201.01 464.60,201.00 465.10,200.84 465.60,201.04 466.10,200.75 466.60,201.28 467.10,201.16 467.60,201.18 468.10,201.22 468.60,201.37 469.10,201.42 469.60,201.37 470.10,201.27 470.60,201.42 471.10,201.17 471.60,200.96 472.10,200.63 472.60,200.71 473.10,200.35 473.60,200.18 474.10,200.25 474.60,200.15 475.10,200.28 475.60,200.17 476.10,200.21 476.60,200.62 477.10,200.41 477.60,200.37 478.10,200.60 478.10,207.27 477.60,207.19 477.10,207.40 476.60,207.61 476.10,207.96 475.60,207.97 475.10,207.75 474.60,207.54 474.10,207.69 473.60,207.47 473.10,207.72 472.60,207.58 472.10,207.13 471.60,206.87 471.10,206.55 470.60,206.72 470.10,206.55 469.60,206.53 469.10,206.62 468.60,206.50 468.10,206.62 467.60,206.92 467.10,206.61 466.60,206.97 466.10,207.01 465.60,207.06 465.10,206.90 464.60,207.04 464.10,206.94 463.60,207.04 463.10,206.87 462.60,206.49 462.10,206.70 461.60,206.64 461.10,206.46 460.60,206.48 460.10,206.66 459.60,206.90 459.10,206.86 458.60,207.02 458.10,207.13 457.60,206.95 457.10,207.05 456.60,206.85 456.10,206.70 455.60,206.99 455.10,206.68 454.60,206.77 454.10,206.60 453.60,206.64 453.10,206.61 452.60,206.58 452.10,206.52 451.60,206.82 451.10,207.43 450.60,207.46 450.10,207.63 449.60,208.31 449.10,208.07 448.60,208.90 448.10,208.56 447.60,209.21 447.10,209.73 446.60,209.75 446.10,209.56 445.60,209.21 445.10,209.50 444.60,210.12 444.10,210.41 443.60,210.11 443.10,210.88 442.60,210.85 442.10,211.49 441.60,211.51 441.10,211.30 440.60,210.32 440.10,210.52 439.60,210.06 439.10,209.85 438.60,209.45 438.10,208.81 437.60,209.07 437.10,208.92 436.60,209.39 436.10,209.39 435.60,209.57 435.10,209.36 434.60,209.18 434.10,209.52 433.60,209.09 433.10,208.72 432.60,208.25 432.10,208.49 431.60,208.54 431.10,207.99 430.60,208.73 430.10,208.93 429.60,208.98 429.10,209.69 428.60,209.94 428.10,210.16 427.60,210.55 427.10,210.27 426.60,210.17 426.10,209.98 425.60,210.37 425.10,209.99 424.60,209.46 424.10,209.60 423.60,209.95 423.10,209.82 422.60,210.50 422.10,210.97 421.60,210.96 421.10,210.84 420.60,210.74 420.10,210.35 419.60,210.23 419.10,209.31 418.60,209.02 418.10,208.75 417.60,208.91 417.10,208.14 416.60,208.39 416.10,208.22 415.60,208.27 415.10,209.04 414.60,208.84 414.10,209.19 413.60,209.37 413.10,208.78 412.60,209.37 412.10,208.55 411.60,208.45 411.10,208.65 410.60,209.04 410.10,209.03 409.60,208.84 409.10,209.30 408.60,209.80 408.10,209.99 407.60,210.13 407.10,210.45 406.60,210.78 406.10,210.48 405.60,210.50 405.10,211.03 404.60,210.54 404.10,210.43 403.60,210.23 403.10,209.81 402.60,209.46 402.10,209.69 401.60,210.05 401.10,209.97 400.60,210.53 400.10,210.56 399.60,210.33 399.10,209.74 398.60,209.23 398.10,209.27 397.60,208.63 397.10,208.73 396.60,208.18 396.10,208.23 395.60,208.43 395.10,208.08 394.60,208.34 394.10,208.98 393.60,208.95 393.10,208.91 392.60,209.25 392.10,209.89 391.60,209.58 391.10,209.38 390.60,209.46 390.10,209.00 389.60,209.23 389.10,209.45 388.60,209.15 388.10,210.11 387.60,209.79 387.10,210.89 386.60,210.74 386.10,209.06 385.60,208.42 385.10,207.45 384.60,206.88" fill="#0a0a0a"/>
<polyline points="384.60,200.23 384.80,206.58 385.00,199.75 385.20,206.83 385.40,200.51 385.60,207.85 385.80,198.53 386.00,208.68 386.20,198.92 386.40,210.30 386.60,198.38 386.80,212.26 387.00,198.48 387.20,211.04 387.40,198.17 387.60,209.49 387.80,197.32 388.00,210.17 388.20,198.19 388.40,209.82 388.60,197.87 388.80,208.71 389.00,199.20 389.20,210.21 389.40,197.82 389.60,209.77 389.80,197.15 390.00,210.03 390.20,197.13 390.40,208.77 390.60,197.45 390.80,210.83 391.00,196.80 391.20,209.20 391.40,198.77 391.60,211.42 391.80,199.06 392.00,211.74 392.20,196.66 392.40,208.64 392.60,199.01 392.80,210.66 393.00,199.03 393.20,208.34 393.40,197.24 393.60,209.27 393.80,197.64 394.00,208.11 394.20,199.13 394.40,209.61 394.60,200.50 394.80,207.95 395.00,198.77 395.20,209.76 395.40,198.17 395.60,207.46 395.80,199.52 396.00,209.14 396.20,199.52 396.40,209.01 396.60,200.29 396.80,207.45 397.00,200.37 397.20,207.52 397.40,198.84 397.60,209.19 397.80,198.48 398.00,208.31 398.20,199.44 398.40,208.76 398.60,196.85 398.80,211.88 399.00,196.19 399.20,208.80 399.40,199.26 399.60,212.29 399.80,197.57 400.00,211.68 400.20,198.04 400.40,210.53 400.60,197.28 400.80,210.35 401.00,197.00 401.20,208.64 401.40,196.71 401.60,211.79 401.80,198.82 402.00,210.18 402.20,196.78 402.40,209.93 402.60,198.88 402.80,209.00 403.00,197.68 403.20,208.47 403.40,196.17 403.60,211.55 403.80,196.75 404.00,211.96 404.20,196.85 404.40,210.34 404.60,196.76 404.80,210.95 405.00,194.93 405.20,212.44 405.40,197.83 405.60,213.09 405.80,195.57 406.00,212.62 406.20,195.19 406.40,210.99 406.60,194.85 406.80,213.02 407.00,195.88 407.20,212.34 407.40,195.80 407.60,210.55 407.80,196.29 408.00,208.94 408.20,198.13 408.40,210.20 408.60,199.66 408.80,209.46 409.00,197.70 409.20,210.08 409.40,199.37 409.60,210.83 409.80,198.19 410.00,208.69 410.20,198.38 410.40,209.29 410.60,198.85 410.80,208.71 411.00,197.43 411.20,209.51 411.40,198.27 411.60,209.98 411.80,197.27 412.00,207.78 412.20,198.27 412.40,210.20 412.60,199.32 412.80,209.20 413.00,199.93 413.20,208.58 413.40,198.81 413.60,208.26 413.80,199.24 414.00,210.93 414.20,198.31 414.40,209.50 414.60,197.08 414.80,209.55 415.00,197.19 415.20,209.59 415.40,197.97 415.60,207.73 415.80,198.78 416.00,209.63 416.20,200.49 416.40,210.03 416.60,200.19 416.80,208.71 417.00,200.13 417.20,208.86 417.40,198.72 417.60,207.71 417.80,197.47 418.00,209.04 418.20,198.48 418.40,209.92 418.60,198.71 418.80,209.17 419.00,197.33 419.20,210.51 419.40,198.39 419.60,211.46 419.80,198.08 420.00,208.87 420.20,198.09 420.40,209.13 420.60,198.33 420.80,212.28 421.00,197.27 421.20,212.94 421.40,195.73 421.60,209.23 421.80,194.80 422.00,212.93 422.20,198.81 422.40,212.58 422.60,197.47 422.80,210.64 423.00,195.46 423.20,209.57 423.40,197.39 423.60,212.16 423.80,196.72 424.00,210.27 424.20,195.78 424.40,211.60 424.60,197.20 424.80,208.95 425.00,197.04 425.20,210.36 425.40,198.58 425.60,208.87 425.80,197.16 426.00,209.26 426.20,197.39 426.40,211.59 426.60,197.25 426.80,209.96 427.00,196.70 427.20,210.61 427.40,195.93 427.60,210.99 427.80,195.19 428.00,212.51 428.20,196.49 428.40,209.44 428.60,199.15 428.80,211.60 429.00,196.99 429.20,210.26 429.40,198.83 429.60,208.73 429.80,198.09 430.00,209.37 430.20,198.70 430.40,209.29 430.60,198.48 430.80,207.83 431.00,200.05 431.20,209.93 431.40,198.27 431.60,209.63 431.80,200.66 432.00,207.43 432.20,199.93 432.40,208.58 432.60,198.75 432.80,207.80 433.00,198.79 433.20,207.86 433.40,200.02 433.60,209.96 433.80,198.36 434.00,209.99 434.20,198.81 434.40,209.60 434.60,199.28 434.80,209.19 435.00,197.42 435.20,210.89 435.40,199.75 435.60,208.38 435.80,197.32 436.00,210.00 436.20,197.57 436.40,208.54 436.60,198.81 436.80,208.61 437.00,197.64 437.20,208.92 437.40,198.17 437.60,210.92 437.80,199.18 438.00,209.59 438.20,197.69 438.40,210.99 438.60,198.56 438.80,209.35 439.00,199.49 439.20,211.46 439.40,199.33 439.60,208.80 439.80,197.18 440.00,210.67 440.20,196.35 440.40,210.18 440.60,195.66 440.80,209.43 441.00,197.89 441.20,212.18 441.40,198.38 441.60,210.65 441.80,195.44 442.00,212.41 442.20,197.48 442.40,209.84 442.60,197.27 442.80,212.25 443.00,197.41 443.20,209.43 443.40,196.21 443.60,211.08 443.80,195.64 444.00,212.29 444.20,195.95 444.40,210.11 444.60,196.61 444.80,209.46 445.00,198.55 445.20,209.71 445.40,196.37 445.60,211.47 445.80,198.87 446.00,209.56 446.20,198.40 446.40,209.62 446.60,198.22 446.80,209.79 447.00,198.89 447.20,210.11 447.40,197.21 447.60,209.78 447.80,197.37 448.00,209.60 448.20,199.74 448.40,209.96 448.60,197.81 448.80,208.27 449.00,200.58 449.20,208.72 449.40,199.32 449.60,208.62 449.80,198.47 450.00,208.58 450.20,199.18 450.40,206.92 450.60,200.05 450.80,208.36 451.00,201.30 451.20,206.61 451.40,200.16 451.60,208.02 451.80,201.66 452.00,207.24 452.20,201.75 452.40,207.24 452.60,200.97 452.80,206.33 453.00,201.73 453.20,207.14 453.40,201.26 453.60,207.13 453.80,201.47 454.00,206.45 454.20,200.49 454.40,207.05 454.60,201.21 454.80,206.90 455.00,200.74 455.20,207.29 455.40,200.29 455.60,206.85 455.80,200.34 456.00,207.42 456.20,200.18 456.40,207.78 456.60,200.13 456.80,208.01 457.00,199.82 457.20,207.57 457.40,200.65 457.60,207.71 457.80,200.11 458.00,207.12 458.20,200.90 458.40,206.54 458.60,200.35 458.80,208.08 459.00,201.12 459.20,206.45 459.40,201.52 459.60,206.83 459.80,201.45 460.00,207.68 460.20,201.92 460.40,206.47 460.60,201.88 460.80,206.98 461.00,200.83 461.20,206.18 461.40,202.01 461.60,206.64 461.80,201.15 462.00,207.40 462.20,202.01 462.40,206.13 462.60,201.71 462.80,206.38 463.00,201.55 463.20,207.34 463.40,200.83 463.60,206.55 463.80,201.49 464.00,206.73 464.20,201.44 464.40,207.71 464.60,201.12 464.80,207.37 465.00,200.09 465.20,207.26 465.40,201.17 465.60,208.06 465.80,199.90 466.00,206.95 466.20,200.68 466.40,208.08 466.60,200.87 466.80,206.60 467.00,201.76 467.20,207.84 467.40,200.48 467.60,206.73 467.80,201.07 468.00,206.87 468.20,201.58 468.40,207.59 468.60,201.00 468.80,206.29 469.00,202.09 469.20,206.66 469.40,201.51 469.60,207.19 469.80,200.93 470.00,206.92 470.20,201.79 470.40,206.23 470.60,201.45 470.80,206.48 471.00,200.40 471.20,207.02 471.40,200.71 471.60,208.00 471.80,201.31 472.00,207.24 472.20,201.26 472.40,208.11 472.60,201.47 472.80,208.38 473.00,199.49 473.20,208.53 473.40,201.11 473.60,207.36 473.80,199.54 474.00,207.02 474.20,200.02 474.40,207.98 474.60,198.81 474.80,208.30 475.00,199.02 475.20,207.62 475.40,199.20 475.60,207.88 475.80,198.92 476.00,207.05 476.20,199.21 476.40,207.27 476.60,199.98 476.80,207.93 477.00,200.97 477.20,208.51 477.40,200.72 477.60,207.22 477.80,201.34 478.00,207.09 478.20,200.64 478.40,207.79" fill="none" stroke="#0a0a0a" stroke-width="0.45" stroke-linejoin="round"/>
<path d="M385.10,204.00V197.73M385.35,204.00V209.38M386.60,204.00V193.68M387.10,204.00V193.04M387.60,204.00V191.30M388.10,204.00V193.90M388.35,204.00V212.89M388.85,204.00V212.25M389.10,204.00V194.54M389.35,204.00V211.30M389.85,204.00V214.53M390.60,204.00V193.92M390.85,204.00V210.94M391.10,204.00V194.44M391.60,204.00V195.58M392.35,204.00V211.64M392.60,204.00V196.91M392.85,204.00V210.85M393.35,204.00V212.70M394.35,204.00V211.15M394.60,204.00V198.52M394.85,204.00V212.18M396.10,204.00V197.92M396.35,204.00V211.22M396.60,204.00V197.60M397.85,204.00V212.82M398.60,204.00V195.09M398.85,204.00V213.92M400.10,204.00V191.67M400.60,204.00V196.24M400.85,204.00V214.39M401.35,204.00V216.12M401.60,204.00V194.51M401.85,204.00V216.13M402.10,204.00V192.45M403.10,204.00V192.52M404.10,204.00V192.41M404.35,204.00V215.97M404.60,204.00V193.35M405.10,204.00V193.10M405.35,204.00V211.98M405.60,204.00V190.22M406.35,204.00V216.12M406.85,204.00V215.63M407.35,204.00V213.11M407.85,204.00V213.79M408.35,204.00V213.95M408.60,204.00V194.45M408.85,204.00V213.91M409.10,204.00V194.61M409.35,204.00V214.71M410.10,204.00V195.75M412.10,204.00V196.30M413.35,204.00V214.19M413.60,204.00V197.58M415.10,204.00V195.80M415.35,204.00V210.24M415.60,204.00V196.48M415.85,204.00V209.71M416.60,204.00V197.56M416.85,204.00V210.17M417.10,204.00V195.14M418.10,204.00V194.65M418.35,204.00V213.10M419.10,204.00V193.26M419.35,204.00V213.47M419.85,204.00V212.55M420.10,204.00V194.58M420.35,204.00V216.58M420.85,204.00V213.89M421.35,204.00V212.12M421.85,204.00V214.74M422.85,204.00V213.11M423.60,204.00V192.56M423.85,204.00V213.55M424.10,204.00V192.48M424.60,204.00V193.71M424.85,204.00V215.56M425.10,204.00V196.29M425.60,204.00V191.88M426.35,204.00V215.29M426.85,204.00V212.06M427.10,204.00V194.64M427.60,204.00V195.46M427.85,204.00V215.19M428.35,204.00V214.82M429.10,204.00V196.08M429.85,204.00V212.83M430.10,204.00V194.39M430.35,204.00V211.76M430.85,204.00V211.57M431.10,204.00V197.99M431.60,204.00V197.90M432.10,204.00V197.80M432.60,204.00V195.12M433.10,204.00V196.45M433.60,204.00V194.07M434.10,204.00V195.36M434.60,204.00V194.71M436.60,204.00V194.63M436.85,204.00V212.62M437.10,204.00V196.23M438.10,204.00V195.86M438.35,204.00V212.54M438.85,204.00V212.97M439.85,204.00V211.83M440.10,204.00V193.81M440.35,204.00V213.89M440.60,204.00V191.55M440.85,204.00V217.07M441.85,204.00V213.17M442.10,204.00V195.48M442.35,204.00V216.00M442.85,204.00V215.56M443.10,204.00V191.52M443.35,204.00V213.26M443.60,204.00V192.76M444.35,204.00V213.29M444.60,204.00V196.04M445.10,204.00V194.90M445.85,204.00V212.84M446.35,204.00V211.85M446.85,204.00V212.72M447.10,204.00V195.45M447.35,204.00V210.70M448.35,204.00V210.96M448.85,204.00V211.41M449.35,204.00V210.49M450.10,204.00V198.11M450.60,204.00V198.72M452.10,204.00V198.88M452.35,204.00V208.98M452.60,204.00V200.16M452.85,204.00V208.29M453.10,204.00V200.56M453.35,204.00V208.01M453.60,204.00V200.06M454.60,204.00V200.07M454.85,204.00V208.62M455.10,204.00V200.17M455.35,204.00V207.61M455.60,204.00V199.73M456.35,204.00V208.35M456.60,204.00V198.03M456.85,204.00V209.53M457.60,204.00V199.52M457.85,204.00V207.85M458.35,204.00V209.61M458.85,204.00V208.51M459.10,204.00V200.51M459.35,204.00V208.86M459.60,204.00V200.00M459.85,204.00V208.55M460.10,204.00V199.25M460.35,204.00V208.79M460.85,204.00V207.49M461.10,204.00V199.47M461.35,204.00V207.82M461.85,204.00V207.60M462.10,204.00V200.51M462.35,204.00V207.07M463.60,204.00V199.01M464.10,204.00V198.78M465.10,204.00V198.71M465.35,204.00V208.75M465.60,204.00V200.22M465.85,204.00V208.49M466.35,204.00V207.98M466.60,204.00V199.32M466.85,204.00V209.16M467.10,204.00V200.42M467.35,204.00V208.39M467.60,204.00V199.41M468.60,204.00V200.12M468.85,204.00V207.16M469.10,204.00V200.91M470.10,204.00V200.40M470.35,204.00V207.81M471.10,204.00V199.15M471.35,204.00V208.38M472.10,204.00V198.64M473.35,204.00V209.39M473.60,204.00V197.12M474.10,204.00V196.68M474.35,204.00V208.84M474.85,204.00V209.66M475.35,204.00V209.14M475.60,204.00V197.29M475.85,204.00V208.49M476.35,204.00V209.19M395.00,204.00V195.00M395.35,204.00V212.00M399.00,204.00V192.00M399.35,204.00V213.00M409.00,204.00V191.00M409.35,204.00V216.00M414.00,204.00V194.00M414.35,204.00V216.00M418.00,204.00V192.00M418.35,204.00V215.00M424.00,204.00V189.00M424.35,204.00V218.00M427.00,204.00V194.00M427.35,204.00V212.00M431.00,204.00V188.00M431.35,204.00V214.00M436.00,204.00V194.00M436.35,204.00V217.00M440.50,204.00V185.00M440.85,204.00V224.00M444.00,204.00V194.00M444.35,204.00V213.00M433.00,204.00V196.00M433.35,204.00V218.00M461.00,204.00V198.00M461.35,204.00V208.00M456.00,204.00V199.00M456.35,204.00V208.00M406.00,204.00V196.00M406.35,204.00V210.00M412.00,204.00V197.00M412.35,204.00V211.00M448.00,204.00V197.00M448.35,204.00V210.00M422.00,204.00V195.00M422.35,204.00V219.00M438.00,204.00V194.00M438.35,204.00V220.00M423.75,204.00V194.03M424.10,204.00V214.18M442.60,204.00V194.04M442.95,204.00V214.69M388.71,204.00V195.14M389.06,204.00V214.77M425.29,204.00V193.40M425.64,204.00V211.45M414.68,204.00V196.01M415.03,204.00V213.18M420.86,204.00V196.95M421.21,204.00V211.87M403.49,204.00V193.33M403.84,204.00V214.06M396.42,204.00V193.81M396.77,204.00V211.56M423.43,204.00V196.49M423.78,204.00V211.01M438.41,204.00V196.16M438.76,204.00V211.86M444.96,204.00V193.51M445.31,204.00V212.16M443.73,204.00V194.84M444.08,204.00V213.71M399.08,204.00V193.24M399.43,204.00V213.76M444.03,204.00V193.43M444.38,204.00V212.20M408.31,204.00V196.34M408.66,204.00V211.58M390.84,204.00V195.79M391.19,204.00V213.41M387.20,204.00V194.29M387.55,204.00V212.35M405.29,204.00V193.73M405.64,204.00V212.92M405.63,204.00V195.08M405.98,204.00V213.82M390.36,204.00V193.10M390.71,204.00V211.09M431.24,204.00V193.62M431.59,204.00V211.07M433.48,204.00V195.54M433.83,204.00V213.31M387.54,204.00V196.81M387.89,204.00V211.72M443.36,204.00V196.21M443.71,204.00V214.02M441.85,204.00V193.23M442.20,204.00V212.38M407.93,204.00V194.90M408.28,204.00V214.10M393.38,204.00V194.01M393.73,204.00V214.19M437.72,204.00V196.85M438.07,204.00V214.78M392.38,204.00V195.64M392.73,204.00V213.44M441.17,204.00V195.64M441.52,204.00V214.70M419.16,204.00V195.75M419.51,204.00V212.27M397.47,204.00V196.69M397.82,204.00V211.60M427.66,204.00V193.01M428.01,204.00V211.65M389.86,204.00V193.05M390.21,204.00V213.13M410.95,204.00V196.05M411.30,204.00V213.38M435.75,204.00V195.18M436.10,204.00V212.69M390.29,204.00V193.34M390.64,204.00V211.13M416.12,204.00V193.65M416.47,204.00V211.52M430.17,204.00V193.20M430.52,204.00V213.52M433.49,204.00V196.57M433.84,204.00V212.74" stroke="#0a0a0a" stroke-width="0.5" fill="none"/>
<polygon points="384.60,231.51 385.10,231.12 385.60,230.48 386.10,229.48 386.60,230.14 387.10,229.86 387.60,229.82 388.10,229.74 388.60,229.46 389.10,229.44 389.60,229.80 390.10,229.35 390.60,229.34 391.10,229.19 391.60,229.27 392.10,229.29 392.60,228.90 393.10,229.08 393.60,229.35 394.10,229.40 394.60,229.42 395.10,229.63 395.60,229.49 396.10,229.89 396.60,230.03 397.10,230.12 397.60,230.18 398.10,229.84 398.60,230.26 399.10,230.05 399.60,229.82 400.10,229.96 400.60,230.10 401.10,229.54 401.60,229.42 402.10,229.89 402.60,229.63 403.10,229.34 403.60,229.02 404.10,229.26 404.60,228.95 405.10,229.30 405.60,228.93 406.10,229.27 406.60,229.33 407.10,229.08 407.60,229.12 408.10,229.25 408.60,229.56 409.10,229.77 409.60,229.68 410.10,229.82 410.60,229.76 411.10,229.82 411.60,230.26 412.10,230.08 412.60,229.85 413.10,230.07 413.60,230.01 414.10,230.03 414.60,229.52 415.10,227.95 415.60,227.81 416.10,228.50 416.60,227.89 417.10,228.10 417.60,227.86 418.10,228.09 418.60,227.60 419.10,227.61 419.60,228.58 420.10,228.06 420.60,228.71 421.10,228.89 421.60,228.78 422.10,228.50 422.60,228.37 423.10,229.17 423.60,229.04 424.10,229.30 424.60,228.86 425.10,228.87 425.60,228.90 426.10,228.87 426.60,228.34 427.10,228.18 427.60,228.57 428.10,228.36 428.60,228.05 429.10,227.83 429.60,227.56 430.10,229.19 430.60,228.95 431.10,229.09 431.60,228.94 432.10,229.53 432.60,229.60 433.10,229.75 433.60,229.26 434.10,229.86 434.60,229.80 435.10,230.14 435.60,230.07 436.10,230.31 436.60,229.98 437.10,230.24 437.60,229.89 438.10,230.06 438.60,230.01 439.10,229.74 439.60,229.71 440.10,229.67 440.60,229.72 441.10,229.62 441.60,228.90 442.10,229.29 442.60,229.44 443.10,229.35 443.60,229.13 444.10,228.78 444.60,229.47 445.10,229.06 445.60,229.46 446.10,229.62 446.60,229.46 447.10,229.85 447.60,230.17 448.10,229.92 448.60,229.90 449.10,229.94 449.60,230.16 450.10,229.70 450.60,229.68 451.10,229.50 451.60,229.78 452.10,229.39 452.60,229.35 453.10,229.64 453.60,229.66 454.10,229.47 454.60,229.45 455.10,229.45 455.60,229.21 456.10,228.92 456.60,229.31 457.10,229.22 457.60,229.69 458.10,229.64 458.60,229.21 459.10,230.00 459.60,229.75 460.10,229.65 460.60,229.75 461.10,229.84 461.60,230.08 462.10,229.82 462.60,229.77 463.10,229.75 463.60,229.52 464.10,230.03 464.60,229.32 465.10,229.60 465.60,229.26 466.10,229.50 466.60,228.90 467.10,229.53 467.60,229.05 468.10,229.31 468.60,229.20 469.10,229.26 469.60,229.10 470.10,229.07 470.60,229.52 471.10,229.43 471.60,229.75 472.10,229.91 472.60,229.58 473.10,230.05 473.60,230.25 474.10,230.12 474.60,229.86 475.10,230.18 475.60,229.78 476.10,229.83 476.60,229.64 477.10,229.88 477.60,229.83 478.10,229.69 478.60,229.44 479.10,229.29 479.10,238.65 478.60,238.81 478.10,238.74 477.60,238.37 477.10,238.25 476.60,237.95 476.10,238.40 475.60,237.80 475.10,238.04 474.60,238.04 474.10,238.21 473.60,238.22 473.10,237.96 472.60,238.10 472.10,238.08 471.60,238.64 471.10,238.21 470.60,238.52 470.10,238.50 469.60,238.91 469.10,239.00 468.60,238.72 468.10,239.26 467.60,238.84 467.10,238.67 466.60,238.72 466.10,238.36 465.60,238.55 465.10,238.55 464.60,238.53 464.10,238.17 463.60,238.44 463.10,238.04 462.60,238.13 462.10,238.21 461.60,237.84 461.10,238.25 460.60,237.92 460.10,238.19 459.60,238.05 459.10,238.49 458.60,238.35 458.10,238.90 457.60,238.68 457.10,238.73 456.60,238.77 456.10,239.14 455.60,238.84 455.10,239.00 454.60,238.57 454.10,238.72 453.60,238.56 453.10,238.50 452.60,238.66 452.10,238.51 451.60,238.60 451.10,237.96 450.60,237.99 450.10,238.09 449.60,238.27 449.10,237.73 448.60,237.76 448.10,238.03 447.60,238.26 447.10,237.96 446.60,238.10 446.10,238.58 445.60,238.63 445.10,238.50 444.60,238.86 444.10,238.69 443.60,238.75 443.10,238.52 442.60,238.84 442.10,238.99 441.60,238.56 441.10,238.89 440.60,238.90 440.10,238.60 439.60,238.18 439.10,238.61 438.60,237.88 438.10,238.36 437.60,238.10 437.10,238.21 436.60,237.91 436.10,237.79 435.60,237.79 435.10,238.34 434.60,238.46 434.10,238.20 433.60,238.09 433.10,238.25 432.60,238.55 432.10,238.48 431.60,239.05 431.10,239.19 430.60,238.94 430.10,239.11 429.60,240.32 429.10,240.21 428.60,239.59 428.10,239.73 427.60,239.89 427.10,239.56 426.60,239.03 426.10,239.42 425.60,239.02 425.10,238.89 424.60,239.40 424.10,239.12 423.60,239.06 423.10,239.40 422.60,239.00 422.10,239.49 421.60,239.73 421.10,239.13 420.60,240.09 420.10,239.76 419.60,240.13 419.10,240.24 418.60,240.40 418.10,240.15 417.60,240.34 417.10,239.72 416.60,239.92 416.10,240.31 415.60,239.40 415.10,239.98 414.60,238.35 414.10,238.65 413.60,238.36 413.10,237.99 412.60,238.20 412.10,238.31 411.60,237.96 411.10,237.76 410.60,238.31 410.10,238.16 409.60,238.24 409.10,238.25 408.60,238.49 408.10,238.17 407.60,238.63 407.10,238.78 406.60,238.88 406.10,238.65 405.60,238.80 405.10,238.84 404.60,239.01 404.10,238.79 403.60,238.90 403.10,238.91 402.60,238.26 402.10,238.48 401.60,238.32 401.10,238.30 400.60,238.36 400.10,238.30 399.60,238.07 399.10,237.79 398.60,238.08 398.10,237.94 397.60,238.17 397.10,237.93 396.60,238.61 396.10,238.28 395.60,238.26 395.10,238.47 394.60,239.05 394.10,238.93 393.60,238.68 393.10,238.64 392.60,239.07 392.10,238.81 391.60,238.61 391.10,239.12 390.60,238.62 390.10,238.92 389.60,238.17 389.10,238.51 388.60,238.10 388.10,238.39 387.60,237.86 387.10,238.30 386.60,238.00 386.10,238.13 385.60,237.55 385.10,236.96 384.60,236.13" fill="#7a7a7a"/>
<polyline points="384.60,230.90 384.80,237.53 385.00,231.82 385.20,237.61 385.40,230.45 385.60,237.58 385.80,229.91 386.00,237.97 386.20,228.77 386.40,239.34 386.60,228.48 386.80,239.54 387.00,228.40 387.20,238.07 387.40,228.78 387.60,238.78 387.80,229.05 388.00,239.78 388.20,230.68 388.40,238.42 388.60,229.70 388.80,239.05 389.00,230.13 389.20,240.10 389.40,230.07 389.60,238.44 389.80,230.18 390.00,238.60 390.20,228.32 390.40,237.75 390.60,229.96 390.80,239.55 391.00,228.49 391.20,239.92 391.40,229.57 391.60,240.20 391.80,228.02 392.00,240.14 392.20,229.92 392.40,239.19 392.60,230.24 392.80,240.44 393.00,227.29 393.20,240.54 393.40,230.23 393.60,238.78 393.80,228.66 394.00,239.30 394.20,230.04 394.40,240.02 394.60,229.52 394.80,239.07 395.00,230.12 395.20,239.16 395.40,230.18 395.60,237.66 395.80,229.15 396.00,238.17 396.20,228.51 396.40,237.95 396.60,229.62 396.80,237.35 397.00,230.24 397.20,238.36 397.40,229.40 397.60,238.31 397.80,228.69 398.00,237.32 398.20,228.75 398.40,237.43 398.60,228.47 398.80,238.37 399.00,229.94 399.20,238.59 399.40,228.75 399.60,239.53 399.80,229.88 400.00,237.08 400.20,230.52 400.40,239.27 400.60,228.92 400.80,239.07 401.00,230.40 401.20,238.66 401.40,230.68 401.60,237.58 401.80,229.84 402.00,240.10 402.20,228.77 402.40,239.88 402.60,230.42 402.80,238.72 403.00,230.26 403.20,238.33 403.40,230.09 403.60,240.43 403.80,229.36 404.00,239.17 404.20,228.29 404.40,240.47 404.60,227.32 404.80,239.50 405.00,228.70 405.20,240.58 405.40,229.04 405.60,238.66 405.80,227.96 406.00,238.50 406.20,229.17 406.40,239.00 406.60,228.88 406.80,238.72 407.00,229.09 407.20,238.93 407.40,230.32 407.60,240.00 407.80,230.35 408.00,238.98 408.20,229.01 408.40,238.51 408.60,230.04 408.80,237.57 409.00,229.70 409.20,238.09 409.40,229.48 409.60,237.79 409.80,228.85 410.00,238.41 410.20,230.89 410.40,238.13 410.60,228.43 410.80,237.05 411.00,229.44 411.20,239.50 411.40,230.05 411.60,238.55 411.80,230.03 412.00,237.80 412.20,229.39 412.40,238.58 412.60,230.12 412.80,238.39 413.00,229.53 413.20,239.14 413.40,230.71 413.60,237.43 413.80,230.10 414.00,237.99 414.20,228.49 414.40,238.52 414.60,228.19 414.80,238.54 415.00,229.75 415.20,240.79 415.40,229.36 415.60,242.03 415.80,226.49 416.00,239.65 416.20,228.35 416.40,241.60 416.60,226.48 416.80,240.98 417.00,229.26 417.20,241.50 417.40,229.27 417.60,240.98 417.80,227.30 418.00,242.16 418.20,226.97 418.40,238.62 418.60,225.85 418.80,241.42 419.00,227.28 419.20,238.49 419.40,226.74 419.60,240.01 419.80,227.05 420.00,242.04 420.20,226.26 420.40,238.58 420.60,226.88 420.80,239.83 421.00,227.10 421.20,239.51 421.40,228.29 421.60,239.62 421.80,229.53 422.00,239.13 422.20,227.48 422.40,238.21 422.60,229.66 422.80,240.73 423.00,227.87 423.20,239.71 423.40,229.75 423.60,238.25 423.80,229.12 424.00,241.00 424.20,228.30 424.40,240.90 424.60,229.44 424.80,239.25 425.00,228.33 425.20,240.71 425.40,229.67 425.60,240.89 425.80,228.43 426.00,238.10 426.20,228.49 426.40,239.37 426.60,227.55 426.80,241.40 427.00,228.09 427.20,240.67 427.40,228.37 427.60,241.10 427.80,229.32 428.00,241.08 428.20,229.02 428.40,240.59 428.60,228.82 428.80,239.76 429.00,228.90 429.20,239.83 429.40,227.21 429.60,240.54 429.80,227.96 430.00,240.78 430.20,227.61 430.40,238.85 430.60,228.44 430.80,239.23 431.00,227.20 431.20,238.72 431.40,228.14 431.60,238.38 431.80,229.56 432.00,239.86 432.20,228.66 432.40,238.33 432.60,230.29 432.80,239.95 433.00,229.43 433.20,239.52 433.40,229.36 433.60,239.12 433.80,229.10 434.00,240.02 434.20,228.22 434.40,238.47 434.60,229.49 434.80,237.78 435.00,228.86 435.20,237.37 435.40,230.11 435.60,239.28 435.80,230.87 436.00,238.84 436.20,229.51 436.40,238.44 436.60,230.13 436.80,237.40 437.00,228.53 437.20,239.00 437.40,228.87 437.60,237.30 437.80,228.88 438.00,237.66 438.20,230.36 438.40,238.57 438.60,229.19 438.80,237.52 439.00,228.67 439.20,238.88 439.40,228.18 439.60,239.95 439.80,228.66 440.00,238.45 440.20,227.78 440.40,239.59 440.60,229.64 440.80,240.11 441.00,228.23 441.20,238.40 441.40,229.62 441.60,237.69 441.80,228.67 442.00,238.47 442.20,229.39 442.40,238.50 442.60,229.88 442.80,239.25 443.00,229.42 443.20,238.61 443.40,229.42 443.60,239.30 443.80,227.56 444.00,238.17 444.20,227.67 444.40,240.28 444.60,228.52 444.80,239.24 445.00,228.23 445.20,239.12 445.40,228.55 445.60,240.16 445.80,228.32 446.00,238.13 446.20,230.50 446.40,239.97 446.60,229.71 446.80,239.43 447.00,230.15 447.20,238.41 447.40,229.85 447.60,239.07 447.80,228.40 448.00,238.41 448.20,229.46 448.40,237.95 448.60,230.37 448.80,239.48 449.00,230.70 449.20,239.44 449.40,229.29 449.60,237.20 449.80,228.64 450.00,237.30 450.20,229.47 450.40,237.38 450.60,228.30 450.80,237.93 451.00,228.52 451.20,237.33 451.40,228.98 451.60,237.41 451.80,230.66 452.00,238.90 452.20,227.87 452.40,239.34 452.60,228.11 452.80,239.74 453.00,228.99 453.20,237.73 453.40,228.88 453.60,238.12 453.80,228.79 454.00,238.71 454.20,228.81 454.40,238.27 454.60,228.11 454.80,239.01 455.00,228.76 455.20,237.96 455.40,228.74 455.60,239.48 455.80,227.20 456.00,239.48 456.20,229.88 456.40,238.62 456.60,229.29 456.80,239.83 457.00,227.47 457.20,240.60 457.40,227.53 457.60,240.35 457.80,227.91 458.00,240.26 458.20,230.50 458.40,238.84 458.60,228.92 458.80,239.30 459.00,228.96 459.20,238.99 459.40,228.18 459.60,237.44 459.80,229.41 460.00,239.73 460.20,230.80 460.40,237.39 460.60,228.64 460.80,239.56 461.00,230.90 461.20,237.11 461.40,228.84 461.60,238.79 461.80,229.65 462.00,238.51 462.20,229.03 462.40,239.12 462.60,230.96 462.80,237.23 463.00,228.84 463.20,239.67 463.40,228.66 463.60,238.24 463.80,229.92 464.00,238.15 464.20,230.73 464.40,239.42 464.60,229.96 464.80,239.01 465.00,229.11 465.20,238.38 465.40,228.57 465.60,238.82 465.80,229.79 466.00,240.21 466.20,229.90 466.40,238.05 466.60,229.60 466.80,239.13 467.00,227.88 467.20,238.72 467.40,229.56 467.60,239.77 467.80,229.47 468.00,239.37 468.20,229.48 468.40,240.49 468.60,229.72 468.80,238.42 469.00,229.38 469.20,238.69 469.40,228.10 469.60,239.71 469.80,227.98 470.00,239.21 470.20,230.23 470.40,239.79 470.60,229.80 470.80,238.08 471.00,229.39 471.20,240.22 471.40,229.61 471.60,238.30 471.80,228.19 472.00,239.97 472.20,229.74 472.40,237.54 472.60,228.74 472.80,239.20 473.00,230.01 473.20,239.15 473.40,229.96 473.60,237.78 473.80,229.44 474.00,238.93 474.20,229.76 474.40,239.12 474.60,230.95 474.80,238.31 475.00,229.99 475.20,237.21 475.40,228.55 475.60,237.45 475.80,230.36 476.00,239.47 476.20,228.27 476.40,239.71 476.60,229.86 476.80,239.82 477.00,230.33 477.20,239.33 477.40,227.96 477.60,237.93 477.80,230.20 478.00,239.44 478.20,227.89 478.40,239.69 478.60,227.58 478.80,238.96 479.00,229.26 479.20,237.99" fill="none" stroke="#7a7a7a" stroke-width="0.45" stroke-linejoin="round"/>
<path d="M385.10,234.00V228.08M385.35,234.00V237.99M385.60,234.00V229.56M385.85,234.00V238.86M386.10,234.00V227.00M387.60,234.00V228.39M387.85,234.00V239.91M388.85,234.00V240.23M389.35,234.00V242.13M390.85,234.00V243.37M391.35,234.00V242.80M391.60,234.00V228.03M391.85,234.00V240.47M392.35,234.00V239.89M392.60,234.00V224.78M393.60,234.00V228.16M393.85,234.00V239.95M394.10,234.00V225.73M394.35,234.00V241.66M394.85,234.00V241.05M395.60,234.00V226.55M396.10,234.00V225.33M396.35,234.00V242.75M397.10,234.00V227.21M397.60,234.00V228.54M398.10,234.00V227.19M398.35,234.00V242.08M398.60,234.00V228.93M399.10,234.00V227.34M400.10,234.00V229.18M400.60,234.00V227.05M401.35,234.00V240.82M402.35,234.00V240.97M402.60,234.00V225.44M402.85,234.00V242.67M403.35,234.00V243.17M403.85,234.00V241.93M404.85,234.00V243.35M405.35,234.00V240.66M405.60,234.00V224.65M407.85,234.00V242.75M408.10,234.00V227.68M408.60,234.00V226.83M408.85,234.00V242.24M410.10,234.00V226.77M410.35,234.00V242.35M410.85,234.00V239.44M412.10,234.00V226.74M412.35,234.00V241.75M414.35,234.00V240.44M414.60,234.00V228.13M415.10,234.00V224.10M416.10,234.00V225.66M416.35,234.00V244.23M417.10,234.00V222.09M417.60,234.00V221.91M418.60,234.00V225.45M419.35,234.00V245.46M420.35,234.00V241.82M420.85,234.00V242.30M421.10,234.00V227.19M421.35,234.00V243.08M422.10,234.00V225.83M422.35,234.00V242.48M422.85,234.00V242.15M424.60,234.00V225.55M425.35,234.00V243.52M425.60,234.00V227.13M426.10,234.00V224.40M426.60,234.00V223.99M427.60,234.00V226.79M428.60,234.00V226.70M428.85,234.00V244.45M429.10,234.00V226.31M429.35,234.00V243.97M429.85,234.00V244.46M430.60,234.00V225.16M430.85,234.00V240.06M431.35,234.00V240.10M431.60,234.00V226.31M431.85,234.00V243.71M432.85,234.00V243.48M433.10,234.00V227.41M433.35,234.00V242.80M433.85,234.00V240.79M434.35,234.00V242.08M434.85,234.00V240.33M435.10,234.00V227.49M435.35,234.00V241.11M435.60,234.00V228.13M437.10,234.00V226.16M437.85,234.00V241.12M438.35,234.00V241.42M439.35,234.00V241.50M439.60,234.00V225.86M440.35,234.00V242.13M440.60,234.00V226.85M441.10,234.00V225.89M441.35,234.00V241.23M441.85,234.00V243.50M442.10,234.00V225.77M442.85,234.00V242.32M444.10,234.00V225.31M445.10,234.00V225.31M445.35,234.00V242.48M445.85,234.00V241.65M446.60,234.00V226.51M447.35,234.00V241.96M447.60,234.00V228.58M449.35,234.00V241.34M449.60,234.00V228.23M450.60,234.00V228.18M450.85,234.00V240.75M451.10,234.00V227.70M451.60,234.00V227.78M452.35,234.00V239.87M452.60,234.00V228.33M453.35,234.00V241.42M453.85,234.00V242.92M454.35,234.00V242.61M454.85,234.00V243.46M455.10,234.00V226.18M455.35,234.00V241.69M456.60,234.00V227.31M457.10,234.00V224.36M457.35,234.00V241.48M457.60,234.00V225.09M458.35,234.00V240.84M458.85,234.00V242.70M459.35,234.00V240.53M459.60,234.00V226.34M459.85,234.00V241.58M460.10,234.00V226.07M460.85,234.00V238.98M461.10,234.00V225.82M461.85,234.00V239.08M462.10,234.00V226.86M462.35,234.00V239.67M463.10,234.00V227.51M463.35,234.00V240.82M463.60,234.00V227.77M463.85,234.00V239.98M464.10,234.00V228.89M464.35,234.00V241.23M464.60,234.00V228.39M465.60,234.00V225.03M467.10,234.00V226.60M468.85,234.00V239.91M469.10,234.00V228.10M469.85,234.00V240.47M471.60,234.00V226.74M472.85,234.00V239.82M473.85,234.00V241.76M474.60,234.00V225.85M474.85,234.00V239.24M475.10,234.00V227.02M475.35,234.00V240.71M475.85,234.00V241.51M476.60,234.00V227.27M477.35,234.00V240.84M477.85,234.00V241.53M478.35,234.00V240.31M478.85,234.00V239.86M388.00,234.00V227.00M388.35,234.00V241.00M395.00,234.00V226.00M395.35,234.00V242.00M405.00,234.00V226.00M405.35,234.00V241.00M414.00,234.00V227.00M414.35,234.00V242.00M418.00,234.00V224.00M418.35,234.00V243.00M421.00,234.00V223.60M421.35,234.00V246.50M424.00,234.00V224.00M424.35,234.00V245.00M426.00,234.00V225.00M426.35,234.00V244.00M430.00,234.00V226.00M430.35,234.00V243.00M436.00,234.00V227.00M436.35,234.00V241.00M444.00,234.00V226.00M444.35,234.00V242.00M410.00,234.00V227.00M410.35,234.00V240.00M400.00,234.00V227.00M400.35,234.00V241.00M460.00,234.00V228.00M460.35,234.00V240.00M470.00,234.00V228.00M470.35,234.00V239.00M400.58,234.00V226.31M400.93,234.00V240.59M428.24,234.00V226.00M428.59,234.00V241.70M475.82,234.00V227.09M476.17,234.00V240.98M453.38,234.00V227.04M453.73,234.00V240.58M423.74,234.00V227.71M424.09,234.00V240.75M476.94,234.00V226.08M477.29,234.00V241.25M432.44,234.00V227.32M432.79,234.00V240.18M411.78,234.00V226.44M412.13,234.00V241.73M419.88,234.00V226.43M420.23,234.00V241.55M450.21,234.00V226.67M450.56,234.00V241.52M420.07,234.00V226.59M420.42,234.00V240.56M431.20,234.00V226.46M431.55,234.00V241.38M413.74,234.00V226.11M414.09,234.00V241.30M439.84,234.00V227.98M440.19,234.00V241.09M409.81,234.00V226.66M410.16,234.00V240.93M461.32,234.00V226.71M461.67,234.00V241.60M418.66,234.00V226.71M419.01,234.00V241.48M462.37,234.00V227.30M462.72,234.00V241.69M466.16,234.00V226.62M466.51,234.00V241.95M474.04,234.00V226.96M474.39,234.00V241.06M402.12,234.00V226.33M402.47,234.00V241.87M430.43,234.00V226.62M430.78,234.00V241.44M453.46,234.00V227.66M453.81,234.00V241.56M439.86,234.00V226.67M440.21,234.00V240.84M443.76,234.00V226.45M444.11,234.00V241.27" stroke="#7a7a7a" stroke-width="0.5" fill="none"/>
<polygon points="384.60,253.49 385.10,253.11 385.60,252.22 386.10,251.88 386.60,251.77 387.10,251.28 387.60,251.49 388.10,251.04 388.60,251.12 389.10,251.15 389.60,251.76 390.10,251.88 390.60,251.48 391.10,252.05 391.60,252.10 392.10,252.28 392.60,252.23 393.10,252.02 393.60,251.65 394.10,251.97 394.60,251.90 395.10,251.38 395.60,251.71 396.10,251.28 396.60,251.22 397.10,250.95 397.60,251.63 398.10,251.30 398.60,251.53 399.10,251.33 399.60,251.86 400.10,251.67 400.60,252.12 401.10,251.99 401.60,251.72 402.10,252.16 402.60,252.08 403.10,251.57 403.60,251.61 404.10,251.90 404.60,251.70 405.10,251.57 405.60,251.46 406.10,251.02 406.60,251.14 407.10,251.00 407.60,251.32 408.10,251.48 408.60,251.77 409.10,251.67 409.60,251.92 410.10,252.27 410.60,252.02 411.10,252.07 411.60,251.92 412.10,252.14 412.60,252.04 413.10,251.25 413.60,251.56 414.10,251.49 414.60,251.56 415.10,251.21 415.60,250.98 416.10,251.59 416.60,251.45 417.10,251.57 417.60,251.52 418.10,251.78 418.60,252.09 419.10,252.19 419.60,251.87 420.10,252.26 420.60,251.70 421.10,252.14 421.60,251.93 422.10,251.61 422.60,251.22 423.10,251.28 423.60,251.12 424.10,251.08 424.60,251.13 425.10,251.69 425.60,251.22 426.10,251.83 426.60,251.94 427.10,252.13 427.60,252.23 428.10,251.75 428.60,252.09 429.10,252.25 429.60,252.22 430.10,251.60 430.60,251.64 431.10,251.29 431.60,251.79 432.10,251.65 432.60,251.46 433.10,251.51 433.60,251.59 434.10,251.58 434.60,251.36 435.10,251.82 435.60,251.94 436.10,251.81 436.60,252.01 437.10,252.22 437.60,251.97 438.10,251.99 438.60,252.00 439.10,251.84 439.60,252.02 440.10,251.49 440.60,251.67 441.10,251.48 441.60,251.66 442.10,250.98 442.60,251.24 443.10,251.45 443.60,251.44 444.10,251.28 444.60,251.97 445.10,251.92 445.60,251.80 446.10,252.08 446.60,251.88 447.10,251.73 447.60,252.22 448.10,251.96 448.60,251.84 449.10,251.39 449.60,251.24 450.10,251.21 450.60,250.98 451.10,251.51 451.60,251.38 452.10,251.11 452.60,251.28 453.10,251.87 453.60,251.40 454.10,251.69 454.60,251.70 455.10,252.09 455.60,251.95 456.10,251.69 456.60,251.66 457.10,251.76 457.60,251.42 458.10,251.21 458.60,251.20 459.10,251.23 459.60,250.95 460.10,251.54 460.60,251.38 461.10,251.33 461.60,251.74 462.10,251.41 462.60,252.03 463.10,251.77 463.60,252.08 464.10,252.11 464.60,251.95 465.10,252.18 465.60,251.95 466.10,251.57 466.60,251.35 467.10,251.72 467.60,251.54 468.10,251.20 468.60,251.52 469.10,251.01 469.60,251.53 470.10,251.34 470.60,251.60 471.10,251.96 471.60,252.07 472.10,252.18 472.60,252.06 473.10,252.14 473.60,251.70 474.10,251.89 474.60,252.19 475.10,251.66 475.60,251.86 476.10,251.56 476.60,251.27 477.10,251.08 477.60,250.96 478.10,251.34 478.60,251.45 479.10,251.46 479.10,260.24 478.60,260.18 478.10,260.82 477.60,260.62 477.10,260.19 476.60,260.09 476.10,260.16 475.60,259.99 475.10,260.28 474.60,260.09 474.10,259.57 473.60,259.67 473.10,259.64 472.60,259.94 472.10,259.87 471.60,260.29 471.10,260.31 470.60,260.53 470.10,260.67 469.60,260.38 469.10,260.41 468.60,260.62 468.10,260.36 467.60,260.30 467.10,260.16 466.60,260.22 466.10,259.93 465.60,260.19 465.10,260.06 464.60,259.85 464.10,259.97 463.60,259.93 463.10,260.01 462.60,260.21 462.10,259.94 461.60,260.40 461.10,260.77 460.60,260.25 460.10,260.43 459.60,260.41 459.10,260.56 458.60,260.35 458.10,260.47 457.60,259.88 457.10,259.72 456.60,259.64 456.10,259.79 455.60,259.93 455.10,259.93 454.60,259.81 454.10,259.85 453.60,260.25 453.10,260.37 452.60,260.09 452.10,260.29 451.60,260.54 451.10,260.34 450.60,260.78 450.10,260.78 449.60,260.39 449.10,259.98 448.60,260.11 448.10,259.68 447.60,260.07 447.10,260.07 446.60,259.93 446.10,259.69 445.60,259.94 445.10,260.26 444.60,260.37 444.10,259.91 443.60,260.43 443.10,260.22 442.60,260.81 442.10,260.38 441.60,260.48 441.10,260.52 440.60,260.02 440.10,260.02 439.60,260.30 439.10,260.24 438.60,259.86 438.10,259.91 437.60,259.49 437.10,259.56 436.60,260.05 436.10,259.73 435.60,259.97 435.10,260.52 434.60,260.01 434.10,260.51 433.60,260.46 433.10,260.31 432.60,260.63 432.10,260.12 431.60,260.52 431.10,260.49 430.60,259.84 430.10,259.73 429.60,259.86 429.10,260.05 428.60,259.48 428.10,259.63 427.60,260.12 427.10,259.88 426.60,259.95 426.10,260.18 425.60,260.53 425.10,260.52 424.60,260.45 424.10,260.26 423.60,260.24 423.10,260.57 422.60,260.03 422.10,260.14 421.60,259.78 421.10,260.29 420.60,259.78 420.10,259.79 419.60,259.72 419.10,259.80 418.60,260.15 418.10,259.91 417.60,260.31 417.10,260.23 416.60,260.32 416.10,260.29 415.60,260.72 415.10,260.89 414.60,260.63 414.10,260.51 413.60,260.07 413.10,259.90 412.60,260.09 412.10,259.97 411.60,259.93 411.10,259.65 410.60,259.77 410.10,259.50 409.60,259.86 409.10,260.07 408.60,260.29 408.10,260.08 407.60,260.70 407.10,260.58 406.60,260.78 406.10,260.59 405.60,260.54 405.10,260.71 404.60,260.49 404.10,260.32 403.60,259.82 403.10,259.85 402.60,260.07 402.10,259.87 401.60,259.55 401.10,259.83 400.60,259.60 400.10,259.76 399.60,259.79 399.10,260.05 398.60,260.02 398.10,260.56 397.60,260.22 397.10,260.43 396.60,260.76 396.10,260.46 395.60,260.45 395.10,260.42 394.60,260.04 394.10,259.64 393.60,259.60 393.10,259.52 392.60,260.08 392.10,259.93 391.60,259.94 391.10,260.15 390.60,259.90 390.10,260.19 389.60,260.03 389.10,260.21 388.60,260.60 388.10,260.30 387.60,260.84 387.10,260.63 386.60,260.06 386.10,260.00 385.60,259.30 385.10,258.88 384.60,258.14" fill="#b4b4b4"/>
<polyline points="384.60,253.01 384.80,258.19 385.00,252.24 385.20,258.84 385.40,252.50 385.60,258.94 385.80,252.45 386.00,259.89 386.20,252.07 386.40,261.20 386.60,252.47 386.80,261.12 387.00,250.15 387.20,260.29 387.40,251.88 387.60,259.73 387.80,252.18 388.00,261.77 388.20,250.59 388.40,259.44 388.60,251.05 388.80,261.16 389.00,251.49 389.20,259.44 389.40,251.26 389.60,260.30 389.80,249.77 390.00,260.23 390.20,250.04 390.40,261.53 390.60,251.14 390.80,259.39 391.00,250.63 391.20,259.22 391.40,251.40 391.60,259.17 391.80,252.67 392.00,259.92 392.20,252.55 392.40,261.35 392.60,251.50 392.80,261.10 393.00,250.54 393.20,260.78 393.40,251.28 393.60,260.11 393.80,250.87 394.00,260.70 394.20,252.40 394.40,260.43 394.60,251.63 394.80,260.50 395.00,250.69 395.20,261.10 395.40,250.98 395.60,261.51 395.80,250.13 396.00,259.58 396.20,252.04 396.40,259.50 396.60,251.95 396.80,262.26 397.00,251.47 397.20,260.72 397.40,251.01 397.60,261.08 397.80,251.59 398.00,261.66 398.20,251.49 398.40,261.77 398.60,250.20 398.80,259.24 399.00,251.05 399.20,259.43 399.40,250.23 399.60,259.28 399.80,252.03 400.00,261.06 400.20,251.27 400.40,260.68 400.60,251.82 400.80,260.23 401.00,252.41 401.20,260.03 401.40,252.31 401.60,260.54 401.80,252.69 402.00,259.19 402.20,252.44 402.40,260.23 402.60,251.41 402.80,258.93 403.00,250.27 403.20,261.19 403.40,251.76 403.60,259.49 403.80,250.44 404.00,261.85 404.20,252.13 404.40,261.36 404.60,250.20 404.80,262.00 405.00,251.88 405.20,259.69 405.40,251.95 405.60,260.07 405.80,249.72 406.00,262.13 406.20,250.98 406.40,259.78 406.60,251.36 406.80,260.09 407.00,250.53 407.20,261.45 407.40,250.24 407.60,260.53 407.80,251.26 408.00,260.52 408.20,251.61 408.40,260.38 408.60,250.85 408.80,260.96 409.00,251.92 409.20,260.47 409.40,252.48 409.60,259.03 409.80,251.92 410.00,259.78 410.20,252.86 410.40,259.04 410.60,251.89 410.80,261.22 411.00,250.84 411.20,258.94 411.40,252.11 411.60,259.85 411.80,252.07 412.00,259.31 412.20,251.25 412.40,261.27 412.60,251.70 412.80,259.59 413.00,252.37 413.20,259.22 413.40,250.41 413.60,259.92 413.80,250.41 414.00,261.63 414.20,252.21 414.40,259.92 414.60,251.48 414.80,261.69 415.00,250.19 415.20,260.31 415.40,251.05 415.60,260.45 415.80,251.03 416.00,261.70 416.20,251.71 416.40,261.66 416.60,249.88 416.80,260.95 417.00,249.90 417.20,261.77 417.40,252.21 417.60,261.78 417.80,252.22 418.00,261.14 418.20,252.51 418.40,259.73 418.60,251.75 418.80,261.03 419.00,251.20 419.20,259.37 419.40,250.69 419.60,261.02 419.80,251.67 420.00,258.98 420.20,252.21 420.40,259.63 420.60,251.82 420.80,261.38 421.00,251.28 421.20,261.17 421.40,252.58 421.60,259.73 421.80,250.68 422.00,260.09 422.20,251.98 422.40,259.40 422.60,252.40 422.80,260.49 423.00,250.88 423.20,260.53 423.40,250.76 423.60,260.25 423.80,252.36 424.00,261.42 424.20,251.39 424.40,260.87 424.60,251.29 424.80,260.17 425.00,252.30 425.20,260.19 425.40,251.64 425.60,259.59 425.80,252.49 426.00,260.54 426.20,252.59 426.40,261.53 426.60,251.75 426.80,260.23 427.00,251.41 427.20,259.03 427.40,252.60 427.60,260.93 427.80,251.49 428.00,260.12 428.20,252.08 428.40,260.74 428.60,251.69 428.80,260.84 429.00,250.84 429.20,261.14 429.40,251.06 429.60,260.64 429.80,251.67 430.00,260.36 430.20,251.27 430.40,260.44 430.60,250.50 430.80,261.47 431.00,252.50 431.20,261.31 431.40,250.82 431.60,260.98 431.80,249.87 432.00,259.47 432.20,251.05 432.40,260.48 432.60,249.58 432.80,259.89 433.00,250.71 433.20,259.83 433.40,250.15 433.60,260.84 433.80,250.25 434.00,260.25 434.20,249.89 434.40,259.31 434.60,251.90 434.80,261.31 435.00,250.14 435.20,261.31 435.40,251.94 435.60,259.29 435.80,250.87 436.00,260.93 436.20,252.68 436.40,261.36 436.60,251.54 436.80,258.97 437.00,251.72 437.20,259.70 437.40,252.69 437.60,261.07 437.80,250.60 438.00,259.17 438.20,251.80 438.40,259.58 438.60,251.16 438.80,259.22 439.00,251.96 439.20,260.09 439.40,251.49 439.60,260.26 439.80,251.04 440.00,261.78 440.20,249.98 440.40,261.82 440.60,250.14 440.80,259.96 441.00,251.76 441.20,260.71 441.40,250.52 441.60,261.20 441.80,251.36 442.00,262.37 442.20,251.46 442.40,259.45 442.60,252.15 442.80,259.99 443.00,250.30 443.20,261.78 443.40,252.39 443.60,259.93 443.80,251.89 444.00,261.39 444.20,250.16 444.40,259.83 444.60,252.46 444.80,261.62 445.00,250.24 445.20,260.83 445.40,251.65 445.60,260.82 445.80,250.96 446.00,260.15 446.20,252.27 446.40,260.17 446.60,251.29 446.80,259.66 447.00,251.33 447.20,259.24 447.40,250.43 447.60,259.46 447.80,252.27 448.00,261.50 448.20,250.26 448.40,261.54 448.60,250.43 448.80,261.46 449.00,250.35 449.20,260.80 449.40,252.35 449.60,261.38 449.80,250.06 450.00,261.79 450.20,252.32 450.40,259.55 450.60,250.23 450.80,260.86 451.00,249.72 451.20,262.37 451.40,251.07 451.60,261.39 451.80,250.47 452.00,261.38 452.20,251.41 452.40,261.14 452.60,252.36 452.80,261.77 453.00,250.59 453.20,261.36 453.40,251.44 453.60,259.61 453.80,251.57 454.00,260.79 454.20,251.41 454.40,259.20 454.60,252.89 454.80,259.89 455.00,252.32 455.20,259.42 455.40,252.40 455.60,259.89 455.80,251.20 456.00,261.17 456.20,251.21 456.40,258.94 456.60,250.64 456.80,260.53 457.00,250.90 457.20,260.65 457.40,251.80 457.60,260.01 457.80,252.48 458.00,261.02 458.20,252.45 458.40,261.19 458.60,249.89 458.80,261.25 459.00,250.69 459.20,261.75 459.40,249.57 459.60,261.82 459.80,249.44 460.00,260.78 460.20,252.36 460.40,261.23 460.60,250.52 460.80,261.92 461.00,250.66 461.20,260.37 461.40,252.51 461.60,261.63 461.80,250.82 462.00,261.93 462.20,251.02 462.40,261.43 462.60,250.66 462.80,261.66 463.00,251.60 463.20,261.29 463.40,251.85 463.60,258.92 463.80,252.10 464.00,259.75 464.20,250.45 464.40,259.84 464.60,252.27 464.80,260.59 465.00,252.70 465.20,259.65 465.40,251.89 465.60,259.24 465.80,251.29 466.00,260.10 466.20,250.64 466.40,259.97 466.60,250.04 466.80,259.67 467.00,251.14 467.20,259.85 467.40,252.52 467.60,260.15 467.80,249.88 468.00,260.19 468.20,250.99 468.40,260.94 468.60,251.61 468.80,261.00 469.00,252.20 469.20,260.44 469.40,251.56 469.60,261.80 469.80,250.16 470.00,261.40 470.20,250.76 470.40,261.78 470.60,250.44 470.80,259.36 471.00,252.27 471.20,261.20 471.40,250.42 471.60,261.72 471.80,250.72 472.00,259.39 472.20,251.37 472.40,260.53 472.60,251.36 472.80,259.21 473.00,250.49 473.20,260.13 473.40,252.28 473.60,261.31 473.80,251.98 474.00,259.04 474.20,251.22 474.40,259.56 474.60,252.31 474.80,259.74 475.00,251.21 475.20,259.87 475.40,250.95 475.60,261.57 475.80,249.92 476.00,261.67 476.20,249.97 476.40,259.97 476.60,250.13 476.80,259.57 477.00,250.75 477.20,259.58 477.40,252.13 477.60,262.23 477.80,252.02 478.00,261.55 478.20,250.82 478.40,259.39 478.60,250.07 478.80,259.53 479.00,249.86 479.20,261.69" fill="none" stroke="#b4b4b4" stroke-width="0.45" stroke-linejoin="round"/>
<path d="M385.35,255.90V259.38M385.85,255.90V261.53M386.60,255.90V247.90M387.10,255.90V247.51M387.60,255.90V248.35M387.85,255.90V262.50M388.35,255.90V264.48M388.60,255.90V249.66M388.85,255.90V265.23M389.85,255.90V261.84M390.10,255.90V248.43M390.85,255.90V261.77M391.10,255.90V250.51M391.35,255.90V262.52M391.60,255.90V249.89M392.10,255.90V248.44M392.60,255.90V251.18M393.35,255.90V262.90M393.60,255.90V248.84M394.35,255.90V261.26M395.60,255.90V249.24M396.10,255.90V249.37M396.35,255.90V264.72M396.60,255.90V250.11M396.85,255.90V262.17M397.10,255.90V247.94M397.60,255.90V248.29M397.85,255.90V263.14M398.35,255.90V264.55M398.60,255.90V249.08M399.10,255.90V248.66M400.35,255.90V261.47M400.85,255.90V262.55M401.10,255.90V248.90M401.35,255.90V260.72M401.60,255.90V248.14M402.35,255.90V263.86M402.60,255.90V248.70M403.10,255.90V251.06M403.35,255.90V261.01M404.35,255.90V263.41M404.60,255.90V250.13M405.85,255.90V262.57M406.10,255.90V248.44M406.35,255.90V264.87M408.35,255.90V262.35M408.60,255.90V248.12M409.35,255.90V262.28M410.85,255.90V262.59M411.10,255.90V248.97M411.85,255.90V262.56M412.10,255.90V249.45M412.35,255.90V262.19M413.60,255.90V250.42M414.35,255.90V261.86M414.85,255.90V261.85M415.10,255.90V248.70M415.35,255.90V264.71M416.35,255.90V262.39M417.60,255.90V250.18M417.85,255.90V263.96M418.60,255.90V251.01M419.10,255.90V248.10M419.35,255.90V261.24M419.60,255.90V251.18M420.35,255.90V260.60M420.85,255.90V262.73M421.60,255.90V248.73M421.85,255.90V263.63M422.10,255.90V247.53M422.85,255.90V264.84M423.35,255.90V263.83M423.60,255.90V249.98M423.85,255.90V263.80M424.10,255.90V250.00M424.60,255.90V247.42M424.85,255.90V262.82M427.10,255.90V249.72M427.60,255.90V248.97M428.35,255.90V260.64M428.60,255.90V249.82M430.85,255.90V261.33M431.10,255.90V247.45M431.60,255.90V248.41M432.35,255.90V264.40M432.60,255.90V249.52M432.85,255.90V262.18M433.10,255.90V250.08M433.60,255.90V247.87M434.85,255.90V262.96M435.35,255.90V263.77M436.85,255.90V261.90M437.10,255.90V248.77M437.60,255.90V248.07M438.85,255.90V260.93M439.10,255.90V248.97M440.10,255.90V247.98M441.60,255.90V247.73M442.10,255.90V246.52M442.60,255.90V248.40M442.85,255.90V262.03M443.35,255.90V264.08M443.60,255.90V248.65M444.10,255.90V247.57M444.35,255.90V264.67M444.85,255.90V263.18M445.35,255.90V261.98M445.60,255.90V248.20M445.85,255.90V262.46M447.10,255.90V248.02M447.60,255.90V249.28M448.10,255.90V248.76M448.60,255.90V250.32M448.85,255.90V262.49M449.10,255.90V248.49M449.35,255.90V263.38M450.35,255.90V265.15M450.85,255.90V262.39M451.35,255.90V264.13M451.60,255.90V247.01M451.85,255.90V264.83M452.10,255.90V248.94M453.85,255.90V264.43M454.10,255.90V250.89M454.60,255.90V251.09M454.85,255.90V262.31M455.35,255.90V261.10M455.60,255.90V251.10M455.85,255.90V262.17M457.60,255.90V249.54M458.10,255.90V247.27M458.60,255.90V248.70M459.10,255.90V248.18M459.35,255.90V262.26M459.60,255.90V248.40M460.10,255.90V247.65M461.10,255.90V246.62M461.85,255.90V261.48M462.35,255.90V261.14M462.60,255.90V248.99M462.85,255.90V261.81M463.35,255.90V261.23M464.35,255.90V262.35M465.35,255.90V263.20M465.60,255.90V250.71M466.10,255.90V249.05M466.35,255.90V264.11M466.60,255.90V247.91M467.85,255.90V261.69M468.85,255.90V263.48M469.10,255.90V248.84M469.60,255.90V248.53M470.10,255.90V247.66M470.35,255.90V262.85M470.60,255.90V248.37M470.85,255.90V263.76M471.10,255.90V247.89M471.60,255.90V249.18M471.85,255.90V261.92M472.85,255.90V262.75M473.10,255.90V250.52M473.35,255.90V260.62M474.10,255.90V251.20M474.85,255.90V263.29M475.10,255.90V250.20M475.85,255.90V262.78M476.85,255.90V261.48M477.10,255.90V248.41M478.60,255.90V247.10M392.00,255.90V246.90M392.35,255.90V264.90M401.00,255.90V247.90M401.35,255.90V263.90M409.00,255.90V246.90M409.35,255.90V265.90M414.00,255.90V248.90M414.35,255.90V262.90M425.00,255.90V247.90M425.35,255.90V263.90M432.00,255.90V248.90M432.35,255.90V262.90M440.00,255.90V249.90M440.35,255.90V261.90M455.00,255.90V249.90M455.35,255.90V261.90M468.00,255.90V249.90M468.35,255.90V261.90M397.00,255.90V248.90M397.35,255.90V262.90M419.00,255.90V248.90M419.35,255.90V262.90M452.56,255.90V250.34M452.91,255.90V261.72M427.14,255.90V249.10M427.49,255.90V261.84M449.42,255.90V249.14M449.77,255.90V261.48M429.91,255.90V249.95M430.26,255.90V261.51M399.15,255.90V249.77M399.50,255.90V261.76M404.60,255.90V250.33M404.95,255.90V262.33M421.61,255.90V249.18M421.96,255.90V262.58M408.64,255.90V248.59M408.99,255.90V261.40M423.89,255.90V249.84M424.24,255.90V262.22M397.47,255.90V248.74M397.82,255.90V262.15M390.28,255.90V249.17M390.63,255.90V261.59M436.62,255.90V249.72M436.97,255.90V262.56M474.21,255.90V248.76M474.56,255.90V262.24M460.98,255.90V249.12M461.33,255.90V262.14M399.93,255.90V249.21M400.28,255.90V262.53M474.11,255.90V248.46M474.46,255.90V262.62M418.95,255.90V248.61M419.30,255.90V261.40M396.82,255.90V249.27M397.17,255.90V262.63M399.80,255.90V249.14M400.15,255.90V263.18M421.20,255.90V249.54M421.55,255.90V261.85" stroke="#b4b4b4" stroke-width="0.5" fill="none"/>
<line x1="482.40" y1="245.40" x2="482.40" y2="266.50" stroke="#0a0a0a" stroke-width="1.1"/>
<text x="486.00" y="255.80" font-size="6.40" text-anchor="middle" fill="#111" transform="rotate(90 486.00 255.80)">200 µV</text>
<line x1="384.60" y1="269.50" x2="479.20" y2="269.50" stroke="#0a0a0a" stroke-width="1.1"/>
<line x1="395.70" y1="269.50" x2="395.70" y2="271.50" stroke="#0a0a0a" stroke-width="0.8"/>
<text x="395.70" y="278.40" font-size="6.60" text-anchor="middle" fill="#111">-60</text>
<line x1="422.90" y1="269.50" x2="422.90" y2="271.50" stroke="#0a0a0a" stroke-width="0.8"/>
<text x="422.90" y="278.40" font-size="6.60" text-anchor="middle" fill="#111">-30</text>
<line x1="450.50" y1="269.50" x2="450.50" y2="271.50" stroke="#0a0a0a" stroke-width="0.8"/>
<text x="450.50" y="278.40" font-size="6.60" text-anchor="middle" fill="#111">0</text>
<line x1="475.80" y1="269.50" x2="475.80" y2="271.50" stroke="#0a0a0a" stroke-width="0.8"/>
<text x="475.80" y="278.40" font-size="6.60" text-anchor="middle" fill="#111">30</text>
<text x="437.70" y="287.00" font-size="7.26" text-anchor="middle" fill="#111">time (s)</text>
<line x1="521.90" y1="165.00" x2="521.90" y2="270.00" stroke="#0a0a0a" stroke-width="1.1"/>
<line x1="519.80" y1="265.65" x2="521.90" y2="265.65" stroke="#0a0a0a" stroke-width="0.8"/>
<text x="519.00" y="267.95" font-size="6.60" text-anchor="end" fill="#111">100</text>
<line x1="519.80" y1="246.90" x2="521.90" y2="246.90" stroke="#0a0a0a" stroke-width="0.8"/>
<text x="519.00" y="249.20" font-size="6.60" text-anchor="end" fill="#111">200</text>
<line x1="519.80" y1="228.15" x2="521.90" y2="228.15" stroke="#0a0a0a" stroke-width="0.8"/>
<text x="519.00" y="230.45" font-size="6.60" text-anchor="end" fill="#111">300</text>
<line x1="519.80" y1="209.40" x2="521.90" y2="209.40" stroke="#0a0a0a" stroke-width="0.8"/>
<text x="519.00" y="211.70" font-size="6.60" text-anchor="end" fill="#111">400</text>
<line x1="519.80" y1="190.65" x2="521.90" y2="190.65" stroke="#0a0a0a" stroke-width="0.8"/>
<text x="519.00" y="192.95" font-size="6.60" text-anchor="end" fill="#111">500</text>
<line x1="519.80" y1="171.90" x2="521.90" y2="171.90" stroke="#0a0a0a" stroke-width="0.8"/>
<text x="519.00" y="174.20" font-size="6.60" text-anchor="end" fill="#111">600</text>
<line x1="521.40" y1="269.80" x2="661.00" y2="269.80" stroke="#0a0a0a" stroke-width="1.1"/>
<line x1="523.80" y1="269.80" x2="523.80" y2="272.00" stroke="#0a0a0a" stroke-width="0.8"/>
<text x="523.80" y="278.20" font-size="6.60" text-anchor="middle" fill="#111">-2</text>
<line x1="569.10" y1="269.80" x2="569.10" y2="272.00" stroke="#0a0a0a" stroke-width="0.8"/>
<text x="569.10" y="278.20" font-size="6.60" text-anchor="middle" fill="#111">-1</text>
<line x1="614.40" y1="269.80" x2="614.40" y2="272.00" stroke="#0a0a0a" stroke-width="0.8"/>
<text x="614.40" y="278.20" font-size="6.60" text-anchor="middle" fill="#111">0</text>
<line x1="659.70" y1="269.80" x2="659.70" y2="272.00" stroke="#0a0a0a" stroke-width="0.8"/>
<text x="659.70" y="278.20" font-size="6.60" text-anchor="middle" fill="#111">1</text>
<text x="591.10" y="287.60" font-size="7.29" text-anchor="middle" fill="#111">time relative to REM sleep onset (min)</text>
<text x="501.30" y="220.30" font-size="6.83" text-anchor="middle" fill="#111" transform="rotate(-90 501.30 220.30)">% σ power</text>
<text x="529.40" y="177.00" font-size="6.80" text-anchor="start" fill="#111">σ surge</text>
<line x1="614.40" y1="165.00" x2="614.40" y2="270.00" stroke="#333" stroke-width="0.7" stroke-dasharray="1.6,1.2"/>
<polygon points="522.60,231.30 526.50,231.90 529.80,230.20 533.00,229.10 536.30,228.00 539.60,230.20 542.80,231.30 546.10,230.20 550.40,232.40 554.80,231.30 559.10,229.10 563.50,229.10 567.80,228.00 573.30,227.60 577.60,225.67 582.00,222.25 586.30,219.84 590.70,220.50 595.00,222.00 599.30,225.20 603.70,232.33 608.00,240.54 611.50,248.84 614.40,256.10 617.00,257.50 620.00,258.70 625.00,260.20 630.00,261.30 635.00,261.80 640.00,262.80 645.00,263.20 650.00,264.00 655.00,264.30 659.40,264.80 659.40,266.40 655.00,265.90 650.00,265.60 645.00,264.80 640.00,264.40 635.00,263.40 630.00,262.90 625.00,261.80 620.00,260.30 617.00,259.10 614.40,257.70 611.50,251.16 608.00,243.86 603.70,236.87 599.30,230.80 595.00,227.60 590.70,226.10 586.30,225.36 582.00,227.35 577.60,230.33 573.30,232.00 567.80,232.40 563.50,233.50 559.10,233.50 554.80,235.70 550.40,236.80 546.10,234.60 542.80,235.70 539.60,234.60 536.30,232.40 533.00,233.50 529.80,234.60 526.50,236.30 522.60,235.70" fill="#dedede"/>
<polyline points="522.60,233.50 526.50,234.10 529.80,232.40 533.00,231.30 536.30,230.20 539.60,232.40 542.80,233.50 546.10,232.40 550.40,234.60 554.80,233.50 559.10,231.30 563.50,231.30 567.80,230.20 573.30,229.80 577.60,228.00 582.00,224.80 586.30,222.60 590.70,223.30 595.00,224.80 599.30,228.00 603.70,234.60 608.00,242.20 611.50,250.00 614.40,256.90 617.00,258.30 620.00,259.50 625.00,261.00 630.00,262.10 635.00,262.60 640.00,263.60 645.00,264.00 650.00,264.80 655.00,265.10 659.40,265.60" fill="none" stroke="#c2c2c2" stroke-width="0.8" stroke-linejoin="round"/>
<polygon points="522.60,216.10 526.50,213.90 529.80,216.10 533.00,215.00 536.30,217.10 539.60,215.00 542.80,216.10 546.10,215.00 549.30,217.10 552.60,213.90 555.90,216.10 559.10,213.90 562.40,216.10 565.70,215.00 568.90,216.70 572.20,215.00 575.40,209.48 578.70,205.02 583.00,201.10 587.40,199.60 591.70,200.20 595.00,202.40 598.30,205.70 601.50,212.41 604.80,221.59 609.10,237.40 612.00,247.91 614.40,256.10 617.00,257.50 620.00,258.70 625.00,260.20 630.00,261.30 635.00,261.80 640.00,262.80 645.00,263.20 650.00,264.00 655.00,264.30 659.40,264.80 659.40,266.40 655.00,265.90 650.00,265.60 645.00,264.80 640.00,264.40 635.00,263.40 630.00,262.90 625.00,261.80 620.00,260.30 617.00,259.10 614.40,257.70 612.00,250.09 609.10,240.40 604.80,225.81 601.50,217.59 598.30,211.30 595.00,208.00 591.70,205.80 587.40,205.20 583.00,206.30 578.70,209.78 575.40,213.92 572.20,219.40 568.90,221.10 565.70,219.40 562.40,220.50 559.10,218.30 555.90,220.50 552.60,218.30 549.30,221.50 546.10,219.40 542.80,220.50 539.60,219.40 536.30,221.50 533.00,219.40 529.80,220.50 526.50,218.30 522.60,220.50" fill="#c8c8c8"/>
<polyline points="522.60,218.30 526.50,216.10 529.80,218.30 533.00,217.20 536.30,219.30 539.60,217.20 542.80,218.30 546.10,217.20 549.30,219.30 552.60,216.10 555.90,218.30 559.10,216.10 562.40,218.30 565.70,217.20 568.90,218.90 572.20,217.20 575.40,211.70 578.70,207.40 583.00,203.70 587.40,202.40 591.70,203.00 595.00,205.20 598.30,208.50 601.50,215.00 604.80,223.70 609.10,238.90 612.00,249.00 614.40,256.90 617.00,258.30 620.00,259.50 625.00,261.00 630.00,262.10 635.00,262.60 640.00,263.60 645.00,264.00 650.00,264.80 655.00,265.10 659.40,265.60" fill="none" stroke="#8a8a8a" stroke-width="0.8" stroke-linejoin="round"/>
<polygon points="522.60,204.80 526.50,202.60 530.90,201.90 535.20,201.50 538.50,201.90 541.70,200.40 545.00,201.10 548.30,203.20 551.50,200.40 553.30,193.90 555.90,199.30 559.10,202.60 563.50,203.20 566.70,202.60 570.00,199.30 572.20,198.20 575.40,199.21 578.70,194.17 582.00,186.93 584.10,182.05 586.30,184.86 588.50,176.00 590.00,168.40 592.80,172.70 595.70,173.80 598.30,179.20 601.50,190.82 604.80,207.60 608.00,226.53 610.20,238.38 612.50,248.98 614.40,256.10 617.00,257.50 620.00,258.70 625.00,260.20 630.00,261.30 635.00,261.80 640.00,262.80 645.00,263.20 650.00,264.00 655.00,264.30 659.40,264.80 659.40,266.40 655.00,265.90 650.00,265.60 645.00,264.80 640.00,264.40 635.00,263.40 630.00,262.90 625.00,261.80 620.00,260.30 617.00,259.10 614.40,257.70 612.50,252.02 610.20,243.62 608.00,233.87 604.80,218.00 601.50,204.38 598.30,194.20 595.70,188.80 592.80,187.70 590.00,183.40 588.50,191.00 586.30,199.54 584.10,195.75 582.00,199.68 578.70,205.43 575.40,208.99 572.20,207.80 570.00,208.90 566.70,212.20 563.50,212.80 559.10,212.20 555.90,208.90 553.30,203.50 551.50,210.00 548.30,212.80 545.00,210.70 541.70,210.00 538.50,211.50 535.20,211.10 530.90,211.50 526.50,212.20 522.60,214.40" fill="#a2a2a2"/>
<polyline points="522.60,209.60 526.50,207.40 530.90,206.70 535.20,206.30 538.50,206.70 541.70,205.20 545.00,205.90 548.30,208.00 551.50,205.20 553.30,198.70 555.90,204.10 559.10,207.40 563.50,208.00 566.70,207.40 570.00,204.10 572.20,203.00 575.40,204.10 578.70,199.80 582.00,193.30 584.10,188.90 586.30,192.20 588.50,183.50 590.00,175.90 592.80,180.20 595.70,181.30 598.30,186.70 601.50,197.60 604.80,212.80 608.00,230.20 610.20,241.00 612.50,250.50 614.40,256.90 617.00,258.30 620.00,259.50 625.00,261.00 630.00,262.10 635.00,262.60 640.00,263.60 645.00,264.00 650.00,264.80 655.00,265.10 659.40,265.60" fill="none" stroke="#2a2a2a" stroke-width="0.8" stroke-linejoin="round"/>
<line x1="651.80" y1="167.80" x2="651.80" y2="212.50" stroke="#0a0a0a" stroke-width="1.0"/>
<line x1="651.30" y1="212.00" x2="688.80" y2="212.00" stroke="#0a0a0a" stroke-width="1.0"/>
<line x1="649.80" y1="212.00" x2="651.80" y2="212.00" stroke="#0a0a0a" stroke-width="0.7"/>
<text x="649.20" y="214.30" font-size="6.60" text-anchor="end" fill="#111">100</text>
<line x1="649.80" y1="197.43" x2="651.80" y2="197.43" stroke="#0a0a0a" stroke-width="0.7"/>
<text x="649.20" y="199.73" font-size="6.60" text-anchor="end" fill="#111">300</text>
<line x1="649.80" y1="182.87" x2="651.80" y2="182.87" stroke="#0a0a0a" stroke-width="0.7"/>
<text x="649.20" y="185.17" font-size="6.60" text-anchor="end" fill="#111">500</text>
<line x1="649.80" y1="168.30" x2="651.80" y2="168.30" stroke="#0a0a0a" stroke-width="0.7"/>
<text x="649.20" y="170.60" font-size="6.60" text-anchor="end" fill="#111">700</text>
<rect x="656.95" y="177.34" width="8.10" height="34.66" fill="#0a0a0a" stroke="#0a0a0a" stroke-width="0.9"/>
<line x1="661.00" y1="176.89" x2="661.00" y2="175.07" stroke="#0a0a0a" stroke-width="0.7"/>
<line x1="659.80" y1="175.07" x2="662.20" y2="175.07" stroke="#0a0a0a" stroke-width="0.7"/>
<rect x="665.95" y="187.76" width="8.40" height="24.24" fill="#6f6f72" stroke="#0a0a0a" stroke-width="0.9"/>
<line x1="670.15" y1="187.31" x2="670.15" y2="186.73" stroke="#0a0a0a" stroke-width="0.7"/>
<line x1="668.95" y1="186.73" x2="671.35" y2="186.73" stroke="#0a0a0a" stroke-width="0.7"/>
<rect x="675.75" y="195.77" width="7.80" height="16.23" fill="#ffffff" stroke="#0a0a0a" stroke-width="0.9"/>
<line x1="679.65" y1="195.32" x2="679.65" y2="194.74" stroke="#0a0a0a" stroke-width="0.7"/>
<line x1="678.45" y1="194.74" x2="680.85" y2="194.74" stroke="#0a0a0a" stroke-width="0.7"/>
<text x="670.80" y="219.20" font-size="6.80" text-anchor="middle" fill="#222">σ</text>
<text x="635.60" y="175.40" font-size="6.40" text-anchor="middle" fill="#111" transform="rotate(-90 635.60 175.40)">%</text>
<text x="672.70" y="166.71" font-size="8.80" text-anchor="middle" fill="#111">**</text>
<polyline points="661.30,166.40 661.30,164.50 679.70,164.50 679.70,169.30" fill="none" stroke="#0a0a0a" stroke-width="0.6" stroke-linejoin="round"/>
<text x="666.00" y="173.31" font-size="8.80" text-anchor="middle" fill="#111">**</text>
<polyline points="661.30,175.00 661.30,171.70 670.20,171.70 670.20,175.50" fill="none" stroke="#0a0a0a" stroke-width="0.6" stroke-linejoin="round"/>
<text x="675.50" y="183.91" font-size="8.80" text-anchor="middle" fill="#111">**</text>
<polyline points="670.20,185.40 670.20,182.60 679.70,182.60 679.70,185.40" fill="none" stroke="#0a0a0a" stroke-width="0.6" stroke-linejoin="round"/>
<rect x="659.45" y="228.15" width="4.30" height="4.30" fill="#0a0a0a" stroke="#0a0a0a" stroke-width="0.9"/>
<line x1="657.40" y1="234.40" x2="666.30" y2="234.40" stroke="#0a0a0a" stroke-width="1.0"/>
<text x="668.00" y="233.70" font-size="6.17" text-anchor="start" fill="#111">WT</text>
<rect x="650.65" y="238.45" width="4.30" height="3.90" fill="#6f6f72" stroke="#0a0a0a" stroke-width="0.9"/>
<line x1="648.30" y1="244.20" x2="656.90" y2="244.20" stroke="#555" stroke-width="1.0"/>
<text x="658.00" y="243.90" font-size="6.29" fill="#111">Ca<tspan font-size="3.78" dy="1.57">V</tspan><tspan dy="-1.57">3.2KO</tspan></text>
<rect x="650.65" y="249.05" width="4.30" height="3.60" fill="#ffffff" stroke="#0a0a0a" stroke-width="0.9"/>
<line x1="648.30" y1="254.50" x2="656.90" y2="254.50" stroke="#aaa" stroke-width="1.0"/>
<text x="658.00" y="254.00" font-size="6.07" fill="#111">Ca<tspan font-size="3.64" dy="1.52">V</tspan><tspan dy="-1.52">3.DKO</tspan></text>
</svg></body></html>
